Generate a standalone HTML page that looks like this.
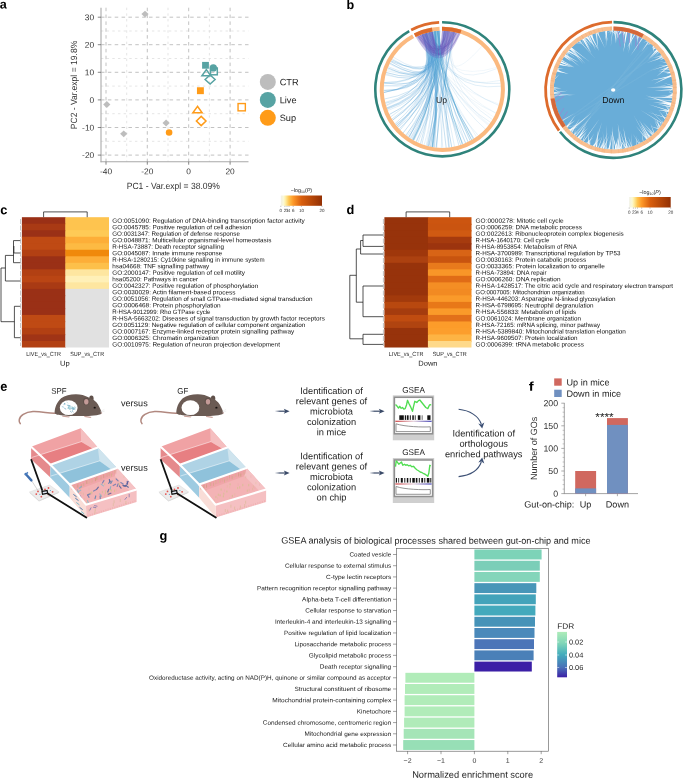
<!DOCTYPE html>
<html><head><meta charset="utf-8"><title>Figure</title>
<style>html,body{margin:0;padding:0;background:#fff;}svg{display:block;will-change:transform;}text{font-family:'Liberation Sans', sans-serif;text-rendering:geometricPrecision;}</style></head>
<body>
<svg width="685" height="779" viewBox="0 0 685 779">
<rect width="685" height="779" fill="#fff"/>
<g id="pa">
<text transform="translate(-0.30,8.50) rotate(0.03)" font-size="12.6" text-anchor="start" font-weight="bold" fill="#000" >a</text>
<line x1="126.7" y1="7.7" x2="126.7" y2="161.7" stroke="#d4d4d4" stroke-width="0.6" stroke-dasharray="2.4 3.26"/>
<line x1="168.0" y1="7.7" x2="168.0" y2="161.7" stroke="#d4d4d4" stroke-width="0.6" stroke-dasharray="2.4 3.26"/>
<line x1="209.4" y1="7.7" x2="209.4" y2="161.7" stroke="#d4d4d4" stroke-width="0.6" stroke-dasharray="2.4 3.26"/>
<line x1="101" y1="31.0" x2="248.5" y2="31.0" stroke="#d4d4d4" stroke-width="0.6" stroke-dasharray="2.4 3.26"/>
<line x1="101" y1="58.5" x2="248.5" y2="58.5" stroke="#d4d4d4" stroke-width="0.6" stroke-dasharray="2.4 3.26"/>
<line x1="101" y1="86.1" x2="248.5" y2="86.1" stroke="#d4d4d4" stroke-width="0.6" stroke-dasharray="2.4 3.26"/>
<line x1="101" y1="113.7" x2="248.5" y2="113.7" stroke="#d4d4d4" stroke-width="0.6" stroke-dasharray="2.4 3.26"/>
<line x1="101" y1="141.3" x2="248.5" y2="141.3" stroke="#d4d4d4" stroke-width="0.6" stroke-dasharray="2.4 3.26"/>
<line x1="106.0" y1="7.7" x2="106.0" y2="161.7" stroke="#b2b2b2" stroke-width="0.8" stroke-dasharray="3.5 3.36"/>
<line x1="147.3" y1="7.7" x2="147.3" y2="161.7" stroke="#b2b2b2" stroke-width="0.8" stroke-dasharray="3.5 3.36"/>
<line x1="188.7" y1="7.7" x2="188.7" y2="161.7" stroke="#b2b2b2" stroke-width="0.8" stroke-dasharray="3.5 3.36"/>
<line x1="230.1" y1="7.7" x2="230.1" y2="161.7" stroke="#b2b2b2" stroke-width="0.8" stroke-dasharray="3.5 3.36"/>
<line x1="101" y1="17.2" x2="248.5" y2="17.2" stroke="#b2b2b2" stroke-width="0.8" stroke-dasharray="3.5 3.36"/>
<line x1="101" y1="44.7" x2="248.5" y2="44.7" stroke="#b2b2b2" stroke-width="0.8" stroke-dasharray="3.5 3.36"/>
<line x1="101" y1="72.3" x2="248.5" y2="72.3" stroke="#b2b2b2" stroke-width="0.8" stroke-dasharray="3.5 3.36"/>
<line x1="101" y1="99.9" x2="248.5" y2="99.9" stroke="#b2b2b2" stroke-width="0.8" stroke-dasharray="3.5 3.36"/>
<line x1="101" y1="127.5" x2="248.5" y2="127.5" stroke="#b2b2b2" stroke-width="0.8" stroke-dasharray="3.5 3.36"/>
<line x1="101" y1="155.1" x2="248.5" y2="155.1" stroke="#b2b2b2" stroke-width="0.8" stroke-dasharray="3.5 3.36"/>
<line x1="101" y1="7.7" x2="101" y2="162.2" stroke="#a9a9a9" stroke-width="1.1"/>
<line x1="100.5" y1="161.7" x2="248.5" y2="161.7" stroke="#a9a9a9" stroke-width="1.1"/>
<line x1="97.8" y1="17.2" x2="101" y2="17.2" stroke="#555" stroke-width="0.7"/>
<text transform="translate(94.20,20.16) rotate(0.03)" font-size="8.4" text-anchor="end" font-weight="normal" fill="#333" >30</text>
<line x1="97.8" y1="44.7" x2="101" y2="44.7" stroke="#555" stroke-width="0.7"/>
<text transform="translate(94.20,47.74) rotate(0.03)" font-size="8.4" text-anchor="end" font-weight="normal" fill="#333" >20</text>
<line x1="97.8" y1="72.3" x2="101" y2="72.3" stroke="#555" stroke-width="0.7"/>
<text transform="translate(94.20,75.32) rotate(0.03)" font-size="8.4" text-anchor="end" font-weight="normal" fill="#333" >10</text>
<line x1="97.8" y1="99.9" x2="101" y2="99.9" stroke="#555" stroke-width="0.7"/>
<text transform="translate(94.20,102.90) rotate(0.03)" font-size="8.4" text-anchor="end" font-weight="normal" fill="#333" >0</text>
<line x1="97.8" y1="127.5" x2="101" y2="127.5" stroke="#555" stroke-width="0.7"/>
<text transform="translate(94.20,130.48) rotate(0.03)" font-size="8.4" text-anchor="end" font-weight="normal" fill="#333" >-10</text>
<line x1="97.8" y1="155.1" x2="101" y2="155.1" stroke="#555" stroke-width="0.7"/>
<text transform="translate(94.20,158.06) rotate(0.03)" font-size="8.4" text-anchor="end" font-weight="normal" fill="#333" >-20</text>
<line x1="106.0" y1="161.7" x2="106.0" y2="164.7" stroke="#555" stroke-width="0.7"/>
<text transform="translate(105.98,174.30) rotate(0.03)" font-size="8.4" text-anchor="middle" font-weight="normal" fill="#333" >-40</text>
<line x1="147.3" y1="161.7" x2="147.3" y2="164.7" stroke="#555" stroke-width="0.7"/>
<text transform="translate(147.34,174.30) rotate(0.03)" font-size="8.4" text-anchor="middle" font-weight="normal" fill="#333" >-20</text>
<line x1="188.7" y1="161.7" x2="188.7" y2="164.7" stroke="#555" stroke-width="0.7"/>
<text transform="translate(188.70,174.30) rotate(0.03)" font-size="8.4" text-anchor="middle" font-weight="normal" fill="#333" >0</text>
<line x1="230.1" y1="161.7" x2="230.1" y2="164.7" stroke="#555" stroke-width="0.7"/>
<text transform="translate(230.06,174.30) rotate(0.03)" font-size="8.4" text-anchor="middle" font-weight="normal" fill="#333" >20</text>
<text transform="translate(173.30,189.00) rotate(0.03) scale(0.95,1)" font-size="9" text-anchor="middle" font-weight="normal" fill="#333" >PC1 - Var.expl = 38.09%</text>
<text transform="translate(76.60,85.00) rotate(-90) scale(0.95,1)" font-size="9" text-anchor="middle" font-weight="normal" fill="#333" >PC2 - Var.expl = 19.8%</text>
<polygon points="141.4,14.1 145.0,10.7 148.6,14.1 145.0,17.5" fill="#bdbdbd" stroke="none" stroke-width="0"/>
<polygon points="103.2,104.5 106.8,101.1 110.4,104.5 106.8,107.9" fill="#bdbdbd" stroke="none" stroke-width="0"/>
<polygon points="120.1,133.8 123.7,130.4 127.3,133.8 123.7,137.2" fill="#bdbdbd" stroke="none" stroke-width="0"/>
<polygon points="162.5,123.0 166.1,119.6 169.7,123.0 166.1,126.4" fill="#bdbdbd" stroke="none" stroke-width="0"/>
<circle cx="169.1" cy="132.5" r="3.3" fill="#ff9b18"/>
<rect x="202.1" y="61.9" width="6.8" height="6.8" fill="#57a3a3"/>
<circle cx="213.3" cy="67.9" r="3.7" fill="#57a3a3"/>
<polygon points="206.3,69.6 201.9,75.7 210.7,75.7" fill="none" stroke="#57a3a3" stroke-width="1.5"/>
<rect x="210.5" y="68.0" width="6.8" height="6.8" fill="none" stroke="#57a3a3" stroke-width="1.5"/>
<polygon points="205.1,79.5 210.1,75.0 215.1,79.5 210.1,84.0" fill="none" stroke="#57a3a3" stroke-width="1.5"/>
<rect x="196.95000000000002" y="87.25" width="6.9" height="6.9" fill="#ff9b18"/>
<polygon points="197.5,106.4 192.9,112.8 202.1,112.8" fill="none" stroke="#ff9b18" stroke-width="1.5"/>
<polygon points="196.4,121.0 201.2,116.4 206.0,121.0 201.2,125.6" fill="none" stroke="#ff9b18" stroke-width="1.5"/>
<rect x="238.04999999999998" y="103.55" width="7.3" height="7.3" fill="none" stroke="#ff9b18" stroke-width="1.4"/>
<circle cx="267.8" cy="81.9" r="8" fill="#bdbdbd"/>
<text transform="translate(279.70,85.20) rotate(0.03)" font-size="9.2" text-anchor="start" font-weight="normal" fill="#222" >CTR</text>
<circle cx="267.8" cy="99.9" r="8" fill="#57a3a3"/>
<text transform="translate(279.70,103.20) rotate(0.03)" font-size="9.2" text-anchor="start" font-weight="normal" fill="#222" >Live</text>
<circle cx="267.8" cy="117.8" r="8" fill="#ff9b18"/>
<text transform="translate(279.70,121.10) rotate(0.03)" font-size="9.2" text-anchor="start" font-weight="normal" fill="#222" >Sup</text>
</g>
<g id="pb">
<text transform="translate(346.60,9.10) rotate(0.03)" font-size="12.6" text-anchor="start" font-weight="bold" fill="#000" >b</text>
<g fill="none" stroke="#4f9ed4" stroke-width="0.5">
<path d="M424.9,33.3 Q440.5,82.0 473.2,139.2" stroke-opacity="0.57"/>
<path d="M422.9,33.9 Q440.8,91.2 424.1,145.1" stroke-opacity="0.30"/>
<path d="M426.1,32.9 Q440.7,93.0 434.5,147.5" stroke-opacity="0.59"/>
<path d="M437.6,30.8 Q440.2,91.1 416.0,141.8" stroke-opacity="0.31"/>
<path d="M432.6,31.4 Q438.7,82.0 460.7,145.0" stroke-opacity="0.57"/>
<path d="M434.4,31.1 Q441.0,84.9 400.0,130.0" stroke-opacity="0.54"/>
<path d="M434.7,31.1 Q443.6,90.1 385.3,103.4" stroke-opacity="0.51"/>
<path d="M439.9,30.6 Q439.2,87.2 392.5,120.3" stroke-opacity="0.63"/>
<path d="M434.2,31.2 Q440.2,89.6 451.7,147.2" stroke-opacity="0.74"/>
<path d="M432.5,31.4 Q441.1,89.3 386.0,72.5" stroke-opacity="0.72"/>
<path d="M434.8,31.1 Q440.0,85.9 432.4,147.2" stroke-opacity="0.71"/>
<path d="M422.6,34.0 Q438.7,90.5 413.6,140.5" stroke-opacity="0.31"/>
<path d="M426.6,32.7 Q441.0,87.9 387.2,69.0" stroke-opacity="0.29"/>
<path d="M454.0,31.8 Q440.5,91.9 497.2,68.5" stroke-opacity="0.22"/>
<path d="M444.5,30.6 Q441.2,88.4 407.2,136.4" stroke-opacity="0.37"/>
<path d="M422.3,34.1 Q444.0,89.6 395.8,125.1" stroke-opacity="0.53"/>
<path d="M433.2,31.3 Q443.0,91.8 473.9,138.8" stroke-opacity="0.75"/>
<path d="M429.2,32.1 Q438.7,82.1 420.4,143.8" stroke-opacity="0.57"/>
<path d="M425.1,33.2 Q439.2,82.5 426.1,145.7" stroke-opacity="0.25"/>
<path d="M422.7,34.0 Q439.8,85.5 499.1,104.0" stroke-opacity="0.15"/>
<path d="M424.4,33.4 Q441.2,82.3 476.6,137.0" stroke-opacity="0.23"/>
<path d="M428.3,32.3 Q438.4,92.7 385.7,73.8" stroke-opacity="0.33"/>
<path d="M424.8,33.3 Q444.2,91.7 429.0,146.5" stroke-opacity="0.51"/>
<path d="M426.8,32.7 Q441.5,90.6 413.7,140.5" stroke-opacity="0.64"/>
<path d="M426.1,32.9 Q443.1,91.1 432.8,147.2" stroke-opacity="0.73"/>
<path d="M426.2,32.9 Q438.5,84.7 396.8,126.3" stroke-opacity="0.26"/>
<path d="M434.6,31.1 Q444.2,92.8 500.9,86.2" stroke-opacity="0.34"/>
<path d="M426.1,32.9 Q442.0,92.1 410.7,138.7" stroke-opacity="0.35"/>
<path d="M449.2,31.0 Q442.3,92.2 441.3,148.0" stroke-opacity="0.34"/>
<path d="M435.7,31.0 Q440.3,90.9 412.5,139.9" stroke-opacity="0.64"/>
<path d="M448.0,30.9 Q439.3,82.8 390.9,60.9" stroke-opacity="0.61"/>
<path d="M438.5,30.7 Q444.2,89.2 470.2,140.9" stroke-opacity="0.71"/>
<path d="M432.0,31.5 Q442.2,87.6 430.5,146.8" stroke-opacity="0.74"/>
<path d="M448.5,30.9 Q439.8,84.8 489.3,124.4" stroke-opacity="0.17"/>
<path d="M432.7,31.4 Q443.8,85.5 392.4,120.2" stroke-opacity="0.32"/>
<path d="M432.6,31.4 Q441.3,87.7 500.7,83.3" stroke-opacity="0.33"/>
<path d="M422.5,34.0 Q443.1,83.4 412.0,139.6" stroke-opacity="0.25"/>
<path d="M435.2,31.0 Q441.6,90.7 399.0,129.0" stroke-opacity="0.51"/>
<path d="M432.2,31.5 Q441.3,88.0 403.1,133.0" stroke-opacity="0.64"/>
<path d="M438.6,30.7 Q441.4,89.6 384.4,99.0" stroke-opacity="0.50"/>
<path d="M431.7,31.6 Q443.6,92.6 390.6,61.5" stroke-opacity="0.60"/>
<path d="M432.2,31.5 Q439.0,86.6 488.4,125.6" stroke-opacity="0.15"/>
<path d="M426.4,32.8 Q443.7,83.2 383.7,92.4" stroke-opacity="0.64"/>
<path d="M434.0,31.2 Q439.6,92.7 387.7,67.8" stroke-opacity="0.73"/>
<path d="M430.9,31.7 Q440.9,87.5 488.9,125.0" stroke-opacity="0.16"/>
<path d="M425.7,33.0 Q441.6,86.6 383.7,86.2" stroke-opacity="0.26"/>
<path d="M428.1,32.4 Q444.2,90.8 454.5,146.7" stroke-opacity="0.33"/>
<path d="M443.8,30.6 Q439.9,82.9 427.6,146.1" stroke-opacity="0.64"/>
<path d="M438.6,30.7 Q443.8,88.1 465.6,143.2" stroke-opacity="0.37"/>
<path d="M423.8,33.6 Q438.7,92.6 383.6,90.2" stroke-opacity="0.46"/>
<path d="M436.6,30.9 Q443.5,86.7 386.6,70.7" stroke-opacity="0.28"/>
<path d="M432.1,31.5 Q441.5,84.2 496.8,67.4" stroke-opacity="0.15"/>
<path d="M425.0,33.2 Q440.1,90.4 410.2,138.4" stroke-opacity="0.41"/>
<path d="M431.1,31.7 Q439.8,81.5 397.4,127.1" stroke-opacity="0.26"/>
<path d="M432.0,31.5 Q438.9,91.1 389.3,114.5" stroke-opacity="0.72"/>
<path d="M431.0,31.7 Q442.4,93.1 500.3,80.4" stroke-opacity="0.24"/>
<path d="M437.2,30.8 Q440.4,82.0 448.8,147.6" stroke-opacity="0.50"/>
<path d="M423.5,33.7 Q438.8,91.4 465.7,143.1" stroke-opacity="0.38"/>
<path d="M451.9,31.4 Q441.1,83.2 406.3,135.6" stroke-opacity="0.40"/>
<path d="M426.8,32.7 Q439.8,92.9 478.3,135.6" stroke-opacity="0.25"/>
<path d="M428.5,32.2 Q441.3,83.7 394.9,123.9" stroke-opacity="0.49"/>
<path d="M422.3,34.1 Q438.6,81.6 421.9,144.3" stroke-opacity="0.45"/>
<path d="M426.3,32.8 Q442.2,89.9 386.8,108.5" stroke-opacity="0.63"/>
<path d="M447.9,30.9 Q442.6,89.0 393.2,57.1" stroke-opacity="0.32"/>
<path d="M437.2,30.8 Q443.2,83.0 498.8,105.4" stroke-opacity="0.29"/>
<path d="M431.2,31.7 Q441.8,92.0 490.7,122.5" stroke-opacity="0.31"/>
<path d="M434.6,31.1 Q440.5,82.6 428.5,146.4" stroke-opacity="0.32"/>
<path d="M450.3,31.1 Q441.2,81.3 449.3,147.6" stroke-opacity="0.64"/>
<path d="M435.6,31.0 Q438.7,90.1 386.6,107.9" stroke-opacity="0.58"/>
<path d="M423.5,33.7 Q442.7,93.0 383.7,85.3" stroke-opacity="0.35"/>
<path d="M429.0,32.1 Q442.0,89.0 383.6,90.7" stroke-opacity="0.63"/>
<path d="M424.8,33.3 Q441.7,81.4 383.9,83.7" stroke-opacity="0.40"/>
<path d="M426.9,32.6 Q440.0,87.5 446.2,147.9" stroke-opacity="0.64"/>
<path d="M430.5,31.8 Q444.2,92.5 388.2,66.6" stroke-opacity="0.35"/>
<path d="M430.4,31.8 Q439.9,83.8 433.6,147.3" stroke-opacity="0.52"/>
<path d="M445.3,30.7 Q444.0,82.9 416.3,141.9" stroke-opacity="0.51"/>
<path d="M449.6,31.1 Q443.7,87.1 496.0,113.0" stroke-opacity="0.17"/>
<path d="M422.3,34.1 Q439.1,85.4 390.5,117.0" stroke-opacity="0.40"/>
<path d="M437.3,30.8 Q439.0,92.4 384.0,82.8" stroke-opacity="0.67"/>
<path d="M438.4,30.7 Q444.3,88.4 395.5,124.8" stroke-opacity="0.45"/>
<path d="M429.8,31.9 Q443.3,84.7 426.6,145.9" stroke-opacity="0.30"/>
<path d="M445.9,30.7 Q440.5,92.8 387.6,110.6" stroke-opacity="0.34"/>
<path d="M453.9,31.8 Q441.6,89.9 436.1,147.7" stroke-opacity="0.77"/>
<path d="M435.3,31.0 Q440.0,81.9 384.0,82.6" stroke-opacity="0.57"/>
<path d="M444.1,30.6 Q442.7,93.0 397.7,127.4" stroke-opacity="0.40"/>
<path d="M433.9,31.2 Q439.3,83.2 385.8,105.4" stroke-opacity="0.45"/>
<path d="M438.5,30.7 Q444.3,86.7 408.4,137.2" stroke-opacity="0.70"/>
<path d="M425.6,33.0 Q439.7,84.4 397.8,127.6" stroke-opacity="0.30"/>
<path d="M438.2,30.7 Q441.4,85.8 458.9,145.6" stroke-opacity="0.51"/>
<path d="M423.3,33.8 Q441.3,88.9 392.1,58.8" stroke-opacity="0.31"/>
<path d="M445.4,30.7 Q441.0,92.7 405.7,135.2" stroke-opacity="0.45"/>
<path d="M454.7,31.9 Q443.7,87.0 428.4,146.3" stroke-opacity="0.60"/>
<path d="M422.2,34.1 Q443.4,93.0 389.8,63.0" stroke-opacity="0.66"/>
<path d="M424.1,33.5 Q443.9,90.0 387.1,109.3" stroke-opacity="0.59"/>
<path d="M435.9,30.9 Q443.0,84.1 386.0,106.0" stroke-opacity="0.27"/>
<path d="M451.5,31.3 Q442.1,89.7 417.8,142.6" stroke-opacity="0.38"/>
<path d="M423.4,33.7 Q439.6,88.5 385.1,102.5" stroke-opacity="0.44"/>
<path d="M427.5,32.5 Q443.6,87.0 391.6,59.7" stroke-opacity="0.57"/>
<path d="M426.6,32.7 Q438.4,87.3 495.9,113.2" stroke-opacity="0.19"/>
<path d="M429.7,32.0 Q439.7,81.7 383.7,92.6" stroke-opacity="0.71"/>
<path d="M429.7,32.0 Q442.7,87.4 468.1,142.0" stroke-opacity="0.70"/>
<path d="M439.7,30.7 Q439.6,90.4 385.4,74.8" stroke-opacity="0.37"/>
<path d="M439.4,30.7 Q440.8,89.3 411.6,139.3" stroke-opacity="0.36"/>
<path d="M444.4,30.6 Q439.2,81.9 409.1,137.7" stroke-opacity="0.74"/>
<path d="M429.2,32.1 Q444.3,92.5 485.4,129.2" stroke-opacity="0.29"/>
<path d="M425.5,33.1 Q442.3,85.8 494.0,117.2" stroke-opacity="0.13"/>
<path d="M428.1,32.4 Q440.4,92.8 431.8,147.0" stroke-opacity="0.39"/>
<path d="M439.6,30.7 Q443.2,86.5 396.7,126.2" stroke-opacity="0.66"/>
<path d="M430.6,31.8 Q440.5,92.1 389.4,63.8" stroke-opacity="0.35"/>
<path d="M429.5,32.0 Q438.5,82.1 442.8,148.0" stroke-opacity="0.32"/>
<path d="M446.0,30.7 Q439.9,92.8 436.7,147.7" stroke-opacity="0.47"/>
<path d="M426.8,32.7 Q438.3,90.4 463.1,144.2" stroke-opacity="0.44"/>
<path d="M451.4,31.3 Q441.2,92.8 482.0,46.1" stroke-opacity="0.17"/>
<path d="M447.8,30.9 Q443.9,83.5 391.8,119.1" stroke-opacity="0.50"/>
<path d="M452.8,31.6 Q440.3,85.1 492.5,119.7" stroke-opacity="0.26"/>
</g>
<path d="M415.7,37.0 A58.7,58.7 0 0 1 432.5,31.4 Q440.8,61.3 442.0,30.6 A58.7,58.7 0 0 1 460.3,33.4 Q440.8,81.3 415.7,37.0Z" fill="#6f5bbd" fill-opacity="0.36"/>
<path d="M417.5,36.1 A58.7,58.7 0 0 1 428.1,32.3 Q440.8,64.3 445.4,30.7 A58.7,58.7 0 0 1 456.5,32.3 Q440.8,78.3 417.5,36.1Z" fill="#6f5bbd" fill-opacity="0.26"/>
<g fill="none" stroke="#6a55b8" stroke-width="0.5" stroke-opacity="0.4">
<path d="M421.4,34.4 Q439.1,64.9 456.6,32.4"/>
<path d="M427.9,32.4 Q439.1,61.9 446.9,30.8"/>
<path d="M424.5,33.3 Q442.7,77.2 448.3,30.9"/>
<path d="M431.9,31.5 Q439.1,63.0 447.2,30.8"/>
<path d="M423.6,33.6 Q440.6,65.5 455.3,32.1"/>
<path d="M422.3,34.1 Q441.5,74.8 453.7,31.7"/>
<path d="M429.5,32.0 Q439.3,76.4 454.5,31.9"/>
<path d="M420.3,34.9 Q440.3,74.6 452.7,31.5"/>
<path d="M418.8,35.5 Q439.8,64.1 446.9,30.8"/>
<path d="M430.1,31.9 Q440.1,68.4 452.9,31.6"/>
<path d="M432.0,31.5 Q439.7,75.9 451.6,31.3"/>
<path d="M426.2,32.8 Q439.2,69.8 460.3,33.4"/>
<path d="M429.0,32.1 Q442.5,62.0 457.6,32.6"/>
<path d="M420.3,34.9 Q439.6,78.8 444.5,30.6"/>
<path d="M425.1,33.2 Q440.3,76.9 459.2,33.1"/>
<path d="M422.8,33.9 Q441.9,78.3 447.1,30.8"/>
<path d="M417.3,36.2 Q441.3,65.2 453.2,31.6"/>
<path d="M421.5,34.4 Q439.6,65.9 444.9,30.7"/>
<path d="M425.3,33.1 Q439.6,61.5 454.2,31.8"/>
<path d="M420.8,34.7 Q439.5,66.9 454.7,31.9"/>
<path d="M418.9,35.5 Q441.0,62.4 456.8,32.4"/>
<path d="M417.2,36.2 Q441.0,72.8 449.6,31.1"/>
<path d="M417.1,36.3 Q441.6,68.7 445.3,30.7"/>
<path d="M420.1,34.9 Q442.6,66.9 448.0,30.9"/>
<path d="M424.8,33.3 Q440.5,76.9 448.9,31.0"/>
<path d="M432.0,31.5 Q439.6,74.4 449.0,31.0"/>
<path d="M418.9,35.5 Q442.4,68.9 442.4,30.6"/>
<path d="M429.0,32.1 Q442.3,69.6 449.8,31.1"/>
<path d="M418.2,35.8 Q441.0,72.8 442.6,30.6"/>
<path d="M430.6,31.8 Q441.3,68.0 443.9,30.6"/>
<path d="M423.7,33.6 Q439.9,70.7 445.0,30.7"/>
<path d="M430.8,31.7 Q440.8,75.8 444.3,30.6"/>
<path d="M431.5,31.6 Q439.3,78.3 445.9,30.7"/>
<path d="M431.7,31.6 Q439.0,78.0 451.2,31.3"/>
<path d="M421.8,34.3 Q441.3,76.1 458.8,33.0"/>
<path d="M418.2,35.8 Q439.7,68.6 456.6,32.4"/>
</g>
<g fill="none" stroke="#3d9bc9" stroke-width="0.6" stroke-opacity="0.8">
<path d="M435.1,31.0 Q441.3,87.3 413.0,140.1"/>
<path d="M436.2,30.9 Q441.3,87.3 432.1,147.1"/>
<path d="M437.2,30.8 Q441.3,87.3 462.4,144.5"/>
<path d="M437.7,30.8 Q441.3,87.3 471.7,140.1"/>
</g>
<path d="M441.98,28.70 A60.6,60.6 0 1 1 413.11,36.20" fill="none" stroke="#fbb97f" stroke-width="4.0"/>
<path d="M414.79,35.31 A60.6,60.6 0 0 1 439.55,28.76" fill="none" stroke="#fbb97f" stroke-width="4.0"/>
<path d="M414.79,35.31 A60.6,60.6 0 0 1 432.19,29.55" fill="none" stroke="#dd6b2c" stroke-width="4.0"/>
<path d="M441.98,28.70 A60.6,60.6 0 0 1 460.93,31.63" fill="none" stroke="#dd6b2c" stroke-width="4.0"/>
<path d="M442.07,22.30 A67.0,67.0 0 1 1 409.21,31.04" fill="none" stroke="#2f837b" stroke-width="2.6"/>
<path d="M411.16,29.98 A67.0,67.0 0 0 1 439.14,22.37" fill="none" stroke="#dd6b2c" stroke-width="2.6"/>
<text transform="translate(441.50,103.00) rotate(0.03)" font-size="8.7" text-anchor="middle" font-weight="normal" fill="#222" >Up</text>
<circle cx="613.5" cy="90" r="59.8" fill="#69add8"/>
<g stroke="#78b6dc" stroke-width="1.2" stroke-opacity="0.5">
<line x1="567.8" y1="120.6" x2="661.8" y2="63.7"/>
<line x1="578.5" y1="132.4" x2="645.1" y2="45.0"/>
<line x1="574.6" y1="128.9" x2="652.6" y2="51.3"/>
<line x1="574.9" y1="129.2" x2="647.8" y2="47.0"/>
<line x1="577.3" y1="131.4" x2="652.2" y2="51.0"/>
<line x1="567.1" y1="119.6" x2="655.7" y2="54.7"/>
</g>
<g fill="#ffffff">
<path d="M657.9,49.9 L650.1,58.3 L658.7,50.9Z" fill-opacity="0.83"/>
<path d="M649.2,138.0 L640.6,125.2 L648.6,138.4Z" fill-opacity="0.72"/>
<path d="M580.8,140.1 L583.5,135.0 L579.7,139.3Z" fill-opacity="0.66"/>
<path d="M564.7,55.4 L579.6,66.4 L565.6,54.2Z" fill-opacity="0.58"/>
<path d="M632.2,146.8 L628.2,136.3 L631.2,147.1Z" fill-opacity="0.57"/>
<path d="M559.2,65.0 L574.3,67.2 L559.8,63.7Z" fill-opacity="0.84"/>
<path d="M569.5,49.6 L574.4,49.3 L570.7,48.3Z" fill-opacity="0.92"/>
<path d="M671.8,103.5 L652.9,102.3 L671.4,105.0Z" fill-opacity="0.86"/>
<path d="M557.5,69.0 L563.9,67.9 L557.8,68.1Z" fill-opacity="0.62"/>
<path d="M606.0,30.7 L605.2,41.3 L607.0,30.6Z" fill-opacity="0.98"/>
<path d="M588.2,144.2 L594.2,133.6 L587.4,143.8Z" fill-opacity="0.64"/>
<path d="M616.2,149.7 L618.2,137.1 L614.5,149.8Z" fill-opacity="0.90"/>
<path d="M671.3,74.6 L654.0,83.9 L671.7,76.2Z" fill-opacity="0.75"/>
<path d="M575.4,136.1 L575.1,129.2 L574.5,135.3Z" fill-opacity="0.88"/>
<path d="M627.7,148.1 L623.3,127.0 L626.5,148.4Z" fill-opacity="0.89"/>
<path d="M601.9,148.7 L604.9,141.0 L600.2,148.3Z" fill-opacity="0.78"/>
<path d="M648.3,138.6 L640.6,124.4 L647.1,139.4Z" fill-opacity="0.68"/>
<path d="M630.1,147.4 L627.1,145.1 L629.3,147.7Z" fill-opacity="0.56"/>
<path d="M648.1,41.2 L641.4,52.1 L649.1,41.9Z" fill-opacity="0.74"/>
<path d="M650.9,136.7 L646.7,131.8 L649.9,137.5Z" fill-opacity="0.61"/>
<path d="M620.8,30.6 L615.4,40.8 L621.8,30.8Z" fill-opacity="0.62"/>
<path d="M553.7,89.1 L562.0,94.2 L553.7,88.3Z" fill-opacity="0.84"/>
<path d="M554.1,96.6 L575.9,93.9 L554.0,95.5Z" fill-opacity="0.62"/>
<path d="M647.5,40.8 L643.1,42.6 L648.3,41.4Z" fill-opacity="0.58"/>
<path d="M568.3,50.9 L568.7,55.1 L569.2,49.9Z" fill-opacity="0.74"/>
<path d="M576.3,136.8 L592.0,115.3 L575.5,136.2Z" fill-opacity="0.78"/>
<path d="M663.6,57.4 L659.8,60.3 L664.4,58.6Z" fill-opacity="0.79"/>
<path d="M626.3,148.4 L619.8,130.0 L625.2,148.6Z" fill-opacity="0.75"/>
<path d="M667.9,114.9 L664.8,109.4 L667.3,116.1Z" fill-opacity="0.95"/>
<path d="M616.7,30.3 L616.9,43.0 L617.5,30.3Z" fill-opacity="0.75"/>
<path d="M570.8,48.1 L589.9,61.9 L571.5,47.5Z" fill-opacity="0.95"/>
<path d="M667.7,64.7 L650.1,70.7 L668.0,65.4Z" fill-opacity="0.88"/>
<path d="M623.8,31.1 L623.1,43.1 L624.8,31.3Z" fill-opacity="0.72"/>
<path d="M589.8,35.1 L599.1,51.0 L591.3,34.5Z" fill-opacity="0.94"/>
<path d="M603.3,148.9 L607.6,139.6 L602.5,148.8Z" fill-opacity="0.83"/>
<path d="M666.5,62.3 L658.9,61.5 L666.7,62.7Z" fill-opacity="0.97"/>
<path d="M636.7,145.1 L636.8,135.8 L636.2,145.3Z" fill-opacity="0.84"/>
<path d="M659.2,51.4 L655.1,56.6 L659.6,51.9Z" fill-opacity="0.71"/>
<path d="M579.2,41.0 L594.6,57.7 L579.6,40.7Z" fill-opacity="0.96"/>
<path d="M623.7,31.1 L617.9,35.3 L624.5,31.2Z" fill-opacity="0.98"/>
<path d="M611.2,30.2 L609.6,35.3 L612.5,30.2Z" fill-opacity="0.59"/>
<path d="M669.4,68.9 L660.7,69.8 L669.8,69.7Z" fill-opacity="0.71"/>
<path d="M618.4,30.4 L616.4,34.5 L619.4,30.5Z" fill-opacity="0.98"/>
<path d="M580.4,139.8 L587.7,130.1 L580.0,139.5Z" fill-opacity="0.75"/>
<path d="M567.1,52.2 L575.9,58.2 L567.5,51.8Z" fill-opacity="0.87"/>
<path d="M582.4,38.9 L583.5,46.6 L582.8,38.7Z" fill-opacity="0.89"/>
<path d="M635.7,34.5 L636.8,38.8 L636.3,34.7Z" fill-opacity="0.92"/>
<path d="M631.8,33.1 L627.4,50.2 L632.9,33.4Z" fill-opacity="0.62"/>
<path d="M578.4,41.6 L584.1,46.3 L579.0,41.2Z" fill-opacity="0.59"/>
<path d="M570.5,48.4 L585.3,63.8 L571.5,47.5Z" fill-opacity="0.73"/>
<path d="M619.3,149.5 L619.6,144.0 L618.0,149.6Z" fill-opacity="0.69"/>
<path d="M606.7,149.4 L606.5,124.4 L605.8,149.3Z" fill-opacity="0.66"/>
<path d="M595.1,146.9 L602.0,121.9 L593.7,146.4Z" fill-opacity="0.57"/>
<path d="M595.5,33.0 L598.3,50.0 L596.9,32.6Z" fill-opacity="0.75"/>
<path d="M567.1,52.3 L574.7,52.3 L567.8,51.5Z" fill-opacity="0.66"/>
<path d="M671.9,102.7 L658.9,101.7 L671.6,104.2Z" fill-opacity="0.88"/>
<path d="M634.5,34.0 L627.2,47.4 L635.4,34.4Z" fill-opacity="0.98"/>
<path d="M661.8,125.3 L659.6,120.2 L661.0,126.4Z" fill-opacity="0.62"/>
<path d="M673.2,87.0 L660.2,85.1 L673.3,88.1Z" fill-opacity="0.84"/>
<path d="M670.5,71.9 L658.1,71.2 L670.8,73.0Z" fill-opacity="0.93"/>
<path d="M603.8,149.0 L605.2,139.6 L602.5,148.8Z" fill-opacity="0.61"/>
<path d="M560.4,62.4 L573.9,67.3 L561.0,61.3Z" fill-opacity="0.93"/>
<path d="M553.7,88.5 L561.5,88.6 L553.8,87.1Z" fill-opacity="0.69"/>
<path d="M610.0,149.7 L612.8,130.8 L608.7,149.6Z" fill-opacity="0.74"/>
<path d="M597.1,147.5 L598.2,129.7 L595.8,147.1Z" fill-opacity="0.95"/>
<path d="M642.6,142.3 L635.3,141.8 L641.6,142.8Z" fill-opacity="0.57"/>
<path d="M569.7,130.7 L577.7,126.7 L568.6,129.5Z" fill-opacity="0.71"/>
<path d="M588.3,35.8 L595.6,50.0 L589.6,35.2Z" fill-opacity="0.84"/>
<path d="M582.3,39.0 L591.3,53.4 L583.6,38.2Z" fill-opacity="1.00"/>
<path d="M672.4,100.3 L643.9,98.8 L672.3,101.0Z" fill-opacity="0.71"/>
<path d="M662.4,55.5 L651.1,58.4 L662.7,56.0Z" fill-opacity="0.96"/>
<path d="M650.2,137.2 L638.7,119.4 L649.2,138.0Z" fill-opacity="0.91"/>
<path d="M620.4,149.4 L623.4,141.0 L618.8,149.6Z" fill-opacity="0.91"/>
<path d="M671.8,103.3 L645.3,95.2 L671.4,104.8Z" fill-opacity="0.85"/>
<path d="M583.1,38.5 L590.2,48.9 L583.9,38.0Z" fill-opacity="0.61"/>
<path d="M584.1,37.9 L592.2,47.5 L584.8,37.5Z" fill-opacity="0.86"/>
<path d="M637.1,35.0 L637.6,43.6 L638.5,35.7Z" fill-opacity="0.71"/>
<path d="M553.8,93.3 L567.8,90.8 L553.7,92.3Z" fill-opacity="0.85"/>
<path d="M630.6,147.3 L623.4,135.2 L630.0,147.5Z" fill-opacity="0.96"/>
<path d="M569.7,49.3 L574.9,52.3 L570.3,48.6Z" fill-opacity="0.85"/>
<path d="M670.0,109.5 L665.4,103.6 L669.7,110.3Z" fill-opacity="0.61"/>
<path d="M666.5,117.7 L647.6,112.0 L666.2,118.3Z" fill-opacity="0.91"/>
<path d="M673.2,94.0 L666.6,97.5 L673.0,95.6Z" fill-opacity="0.93"/>
<path d="M671.4,104.8 L662.1,102.4 L671.1,106.2Z" fill-opacity="0.95"/>
<path d="M566.8,127.4 L575.1,120.3 L565.9,126.2Z" fill-opacity="0.80"/>
<path d="M586.8,143.5 L593.5,137.3 L586.0,143.1Z" fill-opacity="0.82"/>
<path d="M559.4,64.5 L566.0,66.3 L559.9,63.5Z" fill-opacity="0.85"/>
<path d="M585.9,36.9 L593.0,44.9 L587.5,36.1Z" fill-opacity="0.63"/>
<path d="M631.3,147.1 L627.5,145.2 L630.8,147.3Z" fill-opacity="1.00"/>
<path d="M576.3,43.2 L583.1,43.5 L577.2,42.5Z" fill-opacity="0.57"/>
<path d="M557.0,70.3 L561.7,72.8 L557.6,68.8Z" fill-opacity="0.76"/>
<path d="M574.2,135.1 L581.5,130.2 L573.5,134.4Z" fill-opacity="0.57"/>
<path d="M654.2,133.8 L642.5,121.9 L653.4,134.5Z" fill-opacity="0.67"/>
<path d="M580.0,139.5 L586.7,131.7 L578.8,138.7Z" fill-opacity="0.69"/>
<path d="M651.2,136.4 L644.9,133.0 L650.7,136.8Z" fill-opacity="0.95"/>
<path d="M568.8,129.8 L575.0,131.0 L568.4,129.3Z" fill-opacity="0.92"/>
<path d="M590.3,145.1 L590.1,140.2 L588.8,144.4Z" fill-opacity="0.83"/>
<path d="M669.7,110.5 L648.2,104.3 L669.4,111.2Z" fill-opacity="0.94"/>
<path d="M609.3,149.7 L610.7,142.8 L608.0,149.5Z" fill-opacity="0.92"/>
<path d="M570.1,48.9 L583.6,64.6 L571.2,47.7Z" fill-opacity="0.57"/>
<path d="M653.3,45.3 L653.9,51.2 L654.1,46.1Z" fill-opacity="0.90"/>
<path d="M609.1,149.6 L611.1,133.1 L608.6,149.6Z" fill-opacity="0.82"/>
<path d="M621.2,30.7 L616.3,37.8 L622.2,30.8Z" fill-opacity="0.84"/>
<path d="M669.7,110.3 L663.6,102.9 L669.4,111.3Z" fill-opacity="0.85"/>
<path d="M638.7,35.8 L636.7,40.2 L639.3,36.1Z" fill-opacity="0.67"/>
<path d="M560.9,61.5 L564.8,60.1 L561.7,60.2Z" fill-opacity="0.62"/>
<path d="M563.9,56.7 L571.5,61.6 L564.7,55.5Z" fill-opacity="0.97"/>
<path d="M662.5,124.2 L661.9,117.2 L662.2,124.7Z" fill-opacity="0.84"/>
<path d="M579.0,41.2 L582.6,43.6 L579.7,40.7Z" fill-opacity="0.98"/>
<path d="M584.1,37.9 L588.5,38.5 L585.6,37.1Z" fill-opacity="0.76"/>
<path d="M673.2,93.6 L667.7,95.4 L673.1,94.9Z" fill-opacity="0.74"/>
<path d="M622.6,149.1 L617.8,123.7 L621.1,149.3Z" fill-opacity="0.68"/>
<path d="M663.0,56.4 L646.6,62.9 L663.8,57.6Z" fill-opacity="0.62"/>
<path d="M583.8,38.1 L591.1,52.4 L584.5,37.7Z" fill-opacity="0.72"/>
<path d="M566.7,52.8 L570.2,62.0 L567.2,52.1Z" fill-opacity="0.67"/>
<path d="M608.6,149.6 L604.0,145.6 L608.0,149.5Z" fill-opacity="1.00"/>
<path d="M673.2,86.2 L646.1,87.3 L673.3,87.9Z" fill-opacity="0.59"/>
<path d="M567.1,127.8 L575.5,114.9 L566.2,126.6Z" fill-opacity="0.66"/>
<path d="M593.5,146.3 L601.6,136.7 L592.3,145.9Z" fill-opacity="0.72"/>
<path d="M570.3,131.4 L592.0,112.5 L569.3,130.3Z" fill-opacity="0.81"/>
<path d="M606.1,30.7 L605.9,47.7 L607.2,30.5Z" fill-opacity="0.65"/>
<path d="M668.6,66.8 L658.7,70.4 L669.1,67.9Z" fill-opacity="0.78"/>
<path d="M673.2,87.2 L668.6,92.2 L673.3,88.4Z" fill-opacity="0.72"/>
<path d="M594.1,146.6 L596.8,142.5 L592.9,146.1Z" fill-opacity="0.78"/>
<path d="M653.1,45.2 L652.2,48.7 L654.3,46.3Z" fill-opacity="0.81"/>
<path d="M669.7,110.5 L658.1,109.9 L669.1,112.1Z" fill-opacity="0.92"/>
<path d="M630.6,32.7 L631.6,47.3 L631.5,33.0Z" fill-opacity="0.72"/>
<path d="M655.0,47.0 L652.5,50.0 L656.2,48.1Z" fill-opacity="0.98"/>
<path d="M610.8,30.3 L616.4,35.4 L612.1,30.2Z" fill-opacity="0.87"/>
<path d="M668.3,66.0 L656.5,76.4 L668.8,67.2Z" fill-opacity="0.85"/>
<path d="M619.7,149.5 L618.8,124.7 L618.7,149.6Z" fill-opacity="0.87"/>
<path d="M673.0,96.1 L658.9,95.4 L672.9,96.7Z" fill-opacity="0.56"/>
<path d="M614.1,30.2 L616.0,43.4 L615.5,30.2Z" fill-opacity="0.99"/>
<path d="M662.2,55.3 L654.7,56.8 L662.5,55.7Z" fill-opacity="0.89"/>
<path d="M553.8,93.9 L573.0,95.6 L553.8,93.1Z" fill-opacity="0.77"/>
<path d="M673.2,94.2 L661.6,98.1 L673.0,95.9Z" fill-opacity="0.76"/>
<path d="M611.6,30.2 L607.4,32.9 L613.2,30.2Z" fill-opacity="0.83"/>
<path d="M627.3,148.2 L620.1,140.7 L625.7,148.6Z" fill-opacity="0.72"/>
<path d="M653.7,45.7 L652.9,52.7 L654.4,46.4Z" fill-opacity="0.76"/>
<path d="M668.5,113.5 L663.3,116.9 L668.0,114.5Z" fill-opacity="0.75"/>
<path d="M673.3,87.6 L656.8,86.4 L673.3,88.3Z" fill-opacity="0.93"/>
<path d="M640.2,143.5 L637.4,137.5 L639.7,143.8Z" fill-opacity="0.77"/>
<path d="M673.3,88.6 L654.3,91.0 L673.3,90.2Z" fill-opacity="0.65"/>
<path d="M589.4,144.7 L588.0,133.8 L588.0,144.1Z" fill-opacity="0.74"/>
<path d="M660.9,126.4 L652.8,117.8 L660.5,126.9Z" fill-opacity="0.95"/>
<path d="M662.3,55.5 L654.7,60.8 L663.1,56.6Z" fill-opacity="0.78"/>
<path d="M578.7,138.6 L587.0,125.6 L577.4,137.7Z" fill-opacity="0.63"/>
<path d="M604.2,149.1 L609.4,135.1 L603.0,148.9Z" fill-opacity="0.63"/>
<path d="M566.5,53.0 L567.7,59.6 L566.9,52.5Z" fill-opacity="0.82"/>
<path d="M583.1,141.5 L586.1,132.3 L582.5,141.1Z" fill-opacity="0.83"/>
<path d="M671.8,103.4 L661.7,103.8 L671.6,104.0Z" fill-opacity="0.73"/>
<path d="M557.6,68.8 L559.5,71.9 L557.9,67.9Z" fill-opacity="0.84"/>
<path d="M623.8,31.1 L623.5,35.4 L625.4,31.4Z" fill-opacity="0.94"/>
<path d="M660.2,127.4 L656.6,119.0 L659.1,128.7Z" fill-opacity="0.87"/>
<path d="M562.5,121.2 L574.5,113.2 L561.9,120.2Z" fill-opacity="0.60"/>
<path d="M556.6,71.6 L568.7,74.1 L557.1,70.1Z" fill-opacity="0.95"/>
<path d="M653.6,134.4 L648.3,129.6 L652.7,135.2Z" fill-opacity="0.79"/>
<path d="M570.9,132.0 L572.0,128.4 L570.4,131.5Z" fill-opacity="0.63"/>
<path d="M647.4,139.3 L633.0,114.0 L646.9,139.6Z" fill-opacity="0.86"/>
<path d="M671.6,104.1 L667.2,103.2 L671.3,105.4Z" fill-opacity="0.66"/>
<path d="M601.1,148.5 L608.1,132.4 L599.7,148.2Z" fill-opacity="0.61"/>
<path d="M583.7,141.8 L599.8,118.6 L583.1,141.5Z" fill-opacity="0.95"/>
<path d="M569.8,130.8 L577.4,122.4 L569.3,130.3Z" fill-opacity="0.89"/>
<path d="M673.2,93.0 L668.6,92.3 L673.2,94.0Z" fill-opacity="0.93"/>
<path d="M574.0,134.9 L588.8,119.5 L573.6,134.5Z" fill-opacity="0.73"/>
<path d="M585.5,37.1 L597.1,48.4 L586.6,36.6Z" fill-opacity="0.69"/>
<path d="M617.0,149.7 L611.6,130.9 L615.8,149.8Z" fill-opacity="0.97"/>
<path d="M663.5,122.8 L649.6,109.9 L663.2,123.2Z" fill-opacity="0.63"/>
<path d="M643.5,141.7 L641.7,131.6 L643.0,142.0Z" fill-opacity="0.99"/>
<path d="M567.7,51.6 L583.2,59.4 L568.7,50.4Z" fill-opacity="0.95"/>
<path d="M656.9,48.9 L648.0,59.7 L657.8,49.9Z" fill-opacity="0.91"/>
<path d="M657.3,49.3 L653.6,52.5 L658.1,50.2Z" fill-opacity="0.98"/>
<path d="M654.5,133.5 L650.3,122.9 L654.0,134.0Z" fill-opacity="0.98"/>
<path d="M614.9,30.2 L619.8,39.5 L616.2,30.3Z" fill-opacity="0.75"/>
<path d="M578.3,138.4 L587.9,128.1 L577.3,137.6Z" fill-opacity="0.88"/>
<path d="M560.3,62.6 L569.9,66.1 L560.9,61.5Z" fill-opacity="0.84"/>
<path d="M671.0,106.3 L657.2,104.0 L670.7,107.5Z" fill-opacity="0.76"/>
<path d="M647.9,138.9 L642.3,132.3 L647.3,139.3Z" fill-opacity="0.99"/>
<path d="M618.8,149.6 L618.8,137.8 L617.1,149.7Z" fill-opacity="0.70"/>
<path d="M659.2,128.5 L654.6,120.7 L658.3,129.7Z" fill-opacity="0.58"/>
<path d="M596.8,32.6 L604.8,48.1 L597.9,32.3Z" fill-opacity="0.71"/>
<path d="M564.5,55.7 L579.2,62.5 L565.5,54.3Z" fill-opacity="0.62"/>
<path d="M639.5,143.9 L633.1,134.1 L638.8,144.2Z" fill-opacity="0.67"/>
<path d="M585.6,37.1 L591.1,39.8 L586.8,36.5Z" fill-opacity="0.76"/>
<path d="M570.0,49.0 L573.5,53.2 L570.5,48.5Z" fill-opacity="0.80"/>
<path d="M671.5,75.6 L650.8,80.5 L671.8,76.8Z" fill-opacity="0.90"/>
<path d="M597.3,32.4 L598.4,36.3 L598.4,32.1Z" fill-opacity="0.88"/>
<path d="M653.2,134.7 L640.4,122.9 L652.3,135.5Z" fill-opacity="0.55"/>
<path d="M561.4,60.7 L574.5,67.3 L561.8,59.9Z" fill-opacity="0.91"/>
<path d="M603.8,149.0 L602.9,130.6 L603.2,148.9Z" fill-opacity="0.70"/>
<path d="M587.3,36.2 L590.8,44.4 L588.0,35.9Z" fill-opacity="0.96"/>
<path d="M650.3,42.9 L647.0,44.5 L651.6,43.9Z" fill-opacity="0.79"/>
<path d="M647.5,139.2 L636.0,126.1 L646.5,139.8Z" fill-opacity="0.73"/>
<path d="M632.2,146.8 L631.6,132.2 L631.7,147.0Z" fill-opacity="0.65"/>
<path d="M613.7,149.8 L612.7,126.4 L612.5,149.8Z" fill-opacity="0.95"/>
<path d="M630.7,32.7 L628.6,53.0 L632.1,33.2Z" fill-opacity="0.81"/>
<path d="M554.6,79.5 L559.5,74.3 L554.8,78.6Z" fill-opacity="0.92"/>
<path d="M577.9,138.0 L582.7,133.9 L577.2,137.5Z" fill-opacity="0.97"/>
<path d="M579.1,138.9 L587.1,122.1 L578.2,138.2Z" fill-opacity="0.64"/>
<path d="M604.6,30.9 L607.8,41.2 L605.9,30.7Z" fill-opacity="0.71"/>
<path d="M641.1,37.0 L634.2,38.4 L641.6,37.2Z" fill-opacity="0.87"/>
<path d="M567.0,127.6 L578.6,124.4 L566.6,127.1Z" fill-opacity="0.56"/>
<path d="M672.9,96.7 L647.0,97.1 L672.7,98.3Z" fill-opacity="0.78"/>
<path d="M673.1,85.5 L663.7,82.9 L673.2,86.2Z" fill-opacity="0.89"/>
<path d="M670.4,71.6 L666.4,73.6 L670.9,73.2Z" fill-opacity="0.76"/>
<path d="M606.0,149.3 L605.0,145.0 L604.6,149.1Z" fill-opacity="0.61"/>
<path d="M665.7,119.1 L659.2,111.1 L665.3,119.9Z" fill-opacity="0.96"/>
<path d="M598.7,147.9 L602.6,135.7 L597.9,147.7Z" fill-opacity="0.89"/>
<path d="M659.4,51.7 L653.0,50.7 L660.0,52.4Z" fill-opacity="0.97"/>
<path d="M590.8,34.7 L594.0,41.9 L592.3,34.1Z" fill-opacity="0.74"/>
<path d="M663.0,123.6 L640.5,110.0 L662.6,124.1Z" fill-opacity="0.85"/>
<path d="M618.0,149.6 L620.0,133.7 L616.3,149.7Z" fill-opacity="0.63"/>
<path d="M624.8,148.7 L622.8,144.3 L623.9,148.9Z" fill-opacity="0.60"/>
<path d="M572.1,133.1 L579.7,118.4 L571.1,132.2Z" fill-opacity="0.74"/>
<path d="M612.2,30.2 L610.8,46.3 L613.0,30.2Z" fill-opacity="0.66"/>
<path d="M657.3,49.3 L656.6,53.7 L657.8,49.8Z" fill-opacity="0.59"/>
<path d="M659.2,128.6 L650.7,126.3 L658.5,129.4Z" fill-opacity="0.66"/>
<path d="M628.8,147.8 L621.1,138.6 L627.9,148.0Z" fill-opacity="0.64"/>
<path d="M625.7,31.5 L623.4,52.3 L627.3,31.8Z" fill-opacity="0.97"/>
<path d="M642.3,37.6 L630.3,56.0 L643.2,38.1Z" fill-opacity="0.82"/>
<path d="M669.6,110.6 L662.2,112.4 L669.4,111.2Z" fill-opacity="0.88"/>
<path d="M565.1,54.9 L566.6,58.1 L565.8,53.9Z" fill-opacity="0.73"/>
<path d="M667.8,64.9 L658.5,65.9 L668.1,65.6Z" fill-opacity="0.95"/>
</g>
<g fill="none" stroke="#a07fcf" stroke-width="0.8" stroke-opacity="0.8">
<line x1="617.7" y1="30.3" x2="620.4" y2="46.7"/>
<line x1="621.8" y1="30.8" x2="624.3" y2="43.4"/>
<line x1="628.0" y1="32.0" x2="629.7" y2="42.9"/>
<line x1="635.9" y1="34.6" x2="635.7" y2="46.5"/>
<line x1="639.7" y1="36.3" x2="637.6" y2="49.9"/>
<line x1="561.7" y1="119.9" x2="567.5" y2="111.5"/>
<line x1="559.3" y1="115.3" x2="563.9" y2="108.1"/>
<line x1="555.0" y1="102.4" x2="564.1" y2="96.1"/>
<line x1="554.3" y1="98.3" x2="561.8" y2="92.7"/>
</g>
<path d="M613.50,28.50 A61.5,61.5 0 1 1 612.21,28.51" fill="none" stroke="#f9bf8f" stroke-width="4.0"/>
<g stroke="#eeaa72" stroke-width="0.5" stroke-opacity="0.7">
<line x1="660.6" y1="53.6" x2="663.8" y2="51.2"/>
<line x1="583.5" y1="38.6" x2="581.5" y2="35.2"/>
<line x1="559.2" y1="65.7" x2="555.5" y2="64.1"/>
<line x1="554.7" y1="80.9" x2="550.7" y2="80.3"/>
<line x1="672.9" y1="93.4" x2="676.9" y2="93.6"/>
<line x1="554.2" y1="94.4" x2="550.2" y2="94.7"/>
<line x1="664.4" y1="59.2" x2="667.8" y2="57.1"/>
<line x1="662.4" y1="123.8" x2="665.7" y2="126.1"/>
<line x1="560.9" y1="62.1" x2="557.4" y2="60.3"/>
<line x1="633.0" y1="146.2" x2="634.3" y2="150.0"/>
<line x1="646.1" y1="139.8" x2="648.3" y2="143.1"/>
<line x1="566.0" y1="54.2" x2="562.8" y2="51.8"/>
<line x1="611.1" y1="149.5" x2="610.9" y2="153.4"/>
<line x1="564.2" y1="123.3" x2="560.9" y2="125.5"/>
<line x1="564.1" y1="123.1" x2="560.7" y2="125.3"/>
<line x1="570.1" y1="49.3" x2="567.1" y2="46.6"/>
<line x1="590.5" y1="35.1" x2="588.9" y2="31.4"/>
<line x1="673.0" y1="87.8" x2="677.0" y2="87.6"/>
<line x1="643.0" y1="141.7" x2="645.0" y2="145.1"/>
<line x1="558.4" y1="67.5" x2="554.7" y2="66.0"/>
<line x1="555.6" y1="103.8" x2="551.7" y2="104.7"/>
<line x1="578.7" y1="41.7" x2="576.4" y2="38.5"/>
<line x1="650.4" y1="43.3" x2="652.8" y2="40.2"/>
<line x1="554.8" y1="99.5" x2="550.8" y2="100.1"/>
<line x1="611.7" y1="149.5" x2="611.6" y2="153.5"/>
<line x1="611.4" y1="30.5" x2="611.3" y2="26.5"/>
<line x1="632.5" y1="146.4" x2="633.8" y2="150.2"/>
<line x1="581.3" y1="40.0" x2="579.1" y2="36.6"/>
<line x1="666.1" y1="62.1" x2="669.6" y2="60.2"/>
<line x1="661.9" y1="124.6" x2="665.1" y2="127.0"/>
<line x1="665.6" y1="118.7" x2="669.1" y2="120.6"/>
<line x1="568.1" y1="128.5" x2="565.1" y2="131.1"/>
<line x1="671.7" y1="102.3" x2="675.6" y2="103.1"/>
<line x1="556.9" y1="108.2" x2="553.0" y2="109.4"/>
<line x1="631.2" y1="146.8" x2="632.4" y2="150.6"/>
<line x1="568.2" y1="128.6" x2="565.1" y2="131.2"/>
<line x1="622.5" y1="148.8" x2="623.1" y2="152.8"/>
<line x1="554.6" y1="81.4" x2="550.7" y2="80.9"/>
<line x1="672.3" y1="80.9" x2="676.3" y2="80.3"/>
<line x1="554.0" y1="87.7" x2="550.0" y2="87.6"/>
<line x1="582.7" y1="140.9" x2="580.6" y2="144.3"/>
<line x1="563.9" y1="122.9" x2="560.6" y2="125.1"/>
<line x1="592.0" y1="34.5" x2="590.6" y2="30.8"/>
<line x1="579.2" y1="138.6" x2="576.9" y2="141.9"/>
<line x1="671.1" y1="105.1" x2="674.9" y2="106.1"/>
<line x1="599.8" y1="147.9" x2="598.9" y2="151.8"/>
<line x1="592.4" y1="145.6" x2="590.9" y2="149.4"/>
<line x1="587.1" y1="36.7" x2="585.3" y2="33.1"/>
<line x1="557.7" y1="110.5" x2="553.9" y2="111.9"/>
<line x1="576.3" y1="136.4" x2="573.8" y2="139.6"/>
<line x1="590.2" y1="35.3" x2="588.6" y2="31.6"/>
<line x1="668.1" y1="66.5" x2="671.8" y2="64.9"/>
<line x1="555.0" y1="79.2" x2="551.1" y2="78.4"/>
<line x1="559.6" y1="115.2" x2="556.0" y2="116.9"/>
<line x1="579.8" y1="40.9" x2="577.6" y2="37.6"/>
<line x1="572.9" y1="46.5" x2="570.2" y2="43.5"/>
<line x1="573.7" y1="134.3" x2="571.1" y2="137.2"/>
<line x1="555.2" y1="102.1" x2="551.3" y2="102.9"/>
<line x1="602.7" y1="31.5" x2="601.9" y2="27.6"/>
<line x1="556.5" y1="107.0" x2="552.6" y2="108.2"/>
<line x1="653.5" y1="45.9" x2="656.1" y2="42.9"/>
<line x1="655.9" y1="131.7" x2="658.8" y2="134.5"/>
<line x1="556.0" y1="74.7" x2="552.1" y2="73.7"/>
<line x1="649.0" y1="137.8" x2="651.4" y2="141.0"/>
<line x1="583.5" y1="38.6" x2="581.4" y2="35.2"/>
<line x1="627.0" y1="147.9" x2="627.9" y2="151.8"/>
<line x1="554.1" y1="85.8" x2="550.2" y2="85.6"/>
<line x1="610.8" y1="30.6" x2="610.6" y2="26.6"/>
<line x1="566.7" y1="126.8" x2="563.6" y2="129.2"/>
<line x1="671.6" y1="102.8" x2="675.5" y2="103.7"/>
<line x1="590.3" y1="144.8" x2="588.7" y2="148.5"/>
<line x1="648.1" y1="138.4" x2="650.4" y2="141.7"/>
<line x1="594.6" y1="33.6" x2="593.3" y2="29.8"/>
<line x1="618.5" y1="149.3" x2="618.9" y2="153.3"/>
<line x1="650.4" y1="136.6" x2="652.9" y2="139.8"/>
<line x1="598.1" y1="147.5" x2="597.1" y2="151.3"/>
<line x1="555.8" y1="104.6" x2="551.9" y2="105.6"/>
<line x1="564.9" y1="55.7" x2="561.6" y2="53.4"/>
<line x1="564.6" y1="123.9" x2="561.3" y2="126.1"/>
<line x1="596.3" y1="146.9" x2="595.1" y2="150.8"/>
<line x1="556.9" y1="108.5" x2="553.1" y2="109.7"/>
<line x1="672.5" y1="97.8" x2="676.4" y2="98.4"/>
<line x1="557.3" y1="109.6" x2="553.5" y2="110.9"/>
<line x1="566.4" y1="53.6" x2="563.2" y2="51.2"/>
<line x1="556.1" y1="74.3" x2="552.2" y2="73.3"/>
<line x1="602.6" y1="148.5" x2="601.9" y2="152.4"/>
<line x1="673.0" y1="92.2" x2="677.0" y2="92.3"/>
<line x1="595.5" y1="33.3" x2="594.3" y2="29.5"/>
<line x1="562.3" y1="59.7" x2="558.9" y2="57.6"/>
<line x1="580.8" y1="139.7" x2="578.6" y2="143.0"/>
<line x1="672.9" y1="87.1" x2="676.9" y2="86.9"/>
<line x1="672.6" y1="83.5" x2="676.6" y2="83.0"/>
<line x1="556.3" y1="73.5" x2="552.5" y2="72.4"/>
<line x1="670.3" y1="107.8" x2="674.1" y2="109.0"/>
<line x1="667.3" y1="115.5" x2="670.9" y2="117.2"/>
<line x1="599.2" y1="32.3" x2="598.2" y2="28.4"/>
<line x1="672.8" y1="84.9" x2="676.8" y2="84.6"/>
<line x1="648.6" y1="138.1" x2="650.9" y2="141.3"/>
<line x1="665.2" y1="60.6" x2="668.7" y2="58.6"/>
<line x1="562.6" y1="120.8" x2="559.2" y2="122.9"/>
<line x1="671.0" y1="74.6" x2="674.8" y2="73.6"/>
<line x1="556.0" y1="105.3" x2="552.1" y2="106.3"/>
<line x1="603.6" y1="148.7" x2="603.0" y2="152.6"/>
<line x1="604.9" y1="148.9" x2="604.3" y2="152.8"/>
<line x1="554.7" y1="98.9" x2="550.7" y2="99.4"/>
<line x1="645.0" y1="39.5" x2="647.1" y2="36.1"/>
<line x1="555.6" y1="103.6" x2="551.7" y2="104.5"/>
<line x1="670.6" y1="73.3" x2="674.4" y2="72.1"/>
<line x1="561.9" y1="119.6" x2="558.4" y2="121.5"/>
<line x1="555.1" y1="101.4" x2="551.2" y2="102.2"/>
<line x1="670.6" y1="73.4" x2="674.5" y2="72.2"/>
<line x1="554.6" y1="98.1" x2="550.6" y2="98.7"/>
<line x1="573.1" y1="133.7" x2="570.4" y2="136.7"/>
<line x1="669.8" y1="109.3" x2="673.6" y2="110.6"/>
<line x1="563.9" y1="122.9" x2="560.6" y2="125.1"/>
<line x1="668.9" y1="68.4" x2="672.7" y2="66.9"/>
<line x1="624.6" y1="148.5" x2="625.3" y2="152.4"/>
<line x1="591.9" y1="34.6" x2="590.5" y2="30.8"/>
<line x1="556.9" y1="108.3" x2="553.1" y2="109.6"/>
<line x1="672.2" y1="80.5" x2="676.2" y2="79.8"/>
</g>
<path d="M613.50,28.50 A61.5,61.5 0 0 1 642.85,35.95" fill="none" stroke="#d4683a" stroke-width="4.0"/>
<path d="M564.06,126.58 A61.5,61.5 0 0 1 552.60,98.56" fill="none" stroke="#d4683a" stroke-width="4.0"/>
<path d="M613.50,22.10 A67.9,67.9 0 1 1 559.99,131.80" fill="none" stroke="#2f837b" stroke-width="2.6"/>
<path d="M559.06,130.58 A67.9,67.9 0 0 1 612.08,22.11" fill="none" stroke="#dd6b2c" stroke-width="2.8"/>
<ellipse cx="613.2" cy="90" rx="2.2" ry="1.8" fill="#fff"/>
<text transform="translate(613.30,103.00) rotate(0.03)" font-size="8.7" text-anchor="middle" font-weight="normal" fill="#111" >Down</text>
</g>
<g id="pc">
<text transform="translate(0.20,214.30) rotate(0.03)" font-size="12.8" text-anchor="start" font-weight="bold" fill="#000" >c</text>
<rect x="21.9" y="217.20" width="43.90" height="7.72" fill="#9a3016"/>
<rect x="65.3" y="217.20" width="43.70" height="7.72" fill="#fec44f"/>
<text transform="translate(112.20,222.66) rotate(0.03) scale(1.0385,1)" font-size="6.2" text-anchor="start" font-weight="normal" fill="#111" >GO:0051090: Regulation of DNA-binding transcription factor activity</text>
<rect x="21.9" y="223.71" width="43.90" height="7.72" fill="#a93a14"/>
<rect x="65.3" y="223.71" width="43.70" height="7.72" fill="#fec44f"/>
<text transform="translate(112.20,229.17) rotate(0.03) scale(1.0355,1)" font-size="6.2" text-anchor="start" font-weight="normal" fill="#111" >GO:0045785: Positive regulation of cell adhesion</text>
<rect x="21.9" y="230.23" width="43.90" height="7.72" fill="#9a3016"/>
<rect x="65.3" y="230.23" width="43.70" height="7.72" fill="#feca56"/>
<text transform="translate(112.20,235.69) rotate(0.03) scale(1.0118,1)" font-size="6.2" text-anchor="start" font-weight="normal" fill="#111" >GO:0031347: Regulation of defense response</text>
<rect x="21.9" y="236.75" width="43.90" height="7.72" fill="#bf4a14"/>
<rect x="65.3" y="236.75" width="43.70" height="7.72" fill="#fdae38"/>
<text transform="translate(112.20,242.20) rotate(0.03) scale(1.0285,1)" font-size="6.2" text-anchor="start" font-weight="normal" fill="#111" >GO:0048871: Multicellular organismal-level homeostasis</text>
<rect x="21.9" y="243.26" width="43.90" height="7.72" fill="#bf4a14"/>
<rect x="65.3" y="243.26" width="43.70" height="7.72" fill="#fdba43"/>
<text transform="translate(112.20,248.72) rotate(0.03) scale(1.0115,1)" font-size="6.2" text-anchor="start" font-weight="normal" fill="#111" >R-HSA-73887: Death receptor signalling</text>
<rect x="21.9" y="249.77" width="43.90" height="7.72" fill="#b24013"/>
<rect x="65.3" y="249.77" width="43.70" height="7.72" fill="#f0890b"/>
<text transform="translate(112.20,255.23) rotate(0.03) scale(1.029,1)" font-size="6.2" text-anchor="start" font-weight="normal" fill="#111" >GO:0045087: Innate immune response</text>
<rect x="21.9" y="256.29" width="43.90" height="7.72" fill="#9a3016"/>
<rect x="65.3" y="256.29" width="43.70" height="7.72" fill="#fdae38"/>
<text transform="translate(112.20,261.75) rotate(0.03) scale(0.9913,1)" font-size="6.2" text-anchor="start" font-weight="normal" fill="#111" >R-HSA-1280215: Cy10kine signalling in immune system</text>
<rect x="21.9" y="262.81" width="43.90" height="7.72" fill="#9a3016"/>
<rect x="65.3" y="262.81" width="43.70" height="7.72" fill="#fdc04a"/>
<text transform="translate(112.20,268.26) rotate(0.03) scale(1.023,1)" font-size="6.2" text-anchor="start" font-weight="normal" fill="#111" >hsa04668: TNF signalling pathway</text>
<rect x="21.9" y="269.32" width="43.90" height="7.72" fill="#b24013"/>
<rect x="65.3" y="269.32" width="43.70" height="7.72" fill="#fee6a0"/>
<text transform="translate(112.20,274.78) rotate(0.03) scale(1.0354,1)" font-size="6.2" text-anchor="start" font-weight="normal" fill="#111" >GO:2000147: Positive regulation of cell motility</text>
<rect x="21.9" y="275.83" width="43.90" height="7.72" fill="#ba4514"/>
<rect x="65.3" y="275.83" width="43.70" height="7.72" fill="#fff0b8"/>
<text transform="translate(112.20,281.29) rotate(0.03) scale(1.0208,1)" font-size="6.2" text-anchor="start" font-weight="normal" fill="#111" >hsa05200: Pathways in cancer</text>
<rect x="21.9" y="282.35" width="43.90" height="7.72" fill="#a93a14"/>
<rect x="65.3" y="282.35" width="43.70" height="7.72" fill="#fee6a0"/>
<text transform="translate(112.20,287.81) rotate(0.03) scale(1.0302,1)" font-size="6.2" text-anchor="start" font-weight="normal" fill="#111" >GO:0042327: Positive regulation of phosphorylation</text>
<rect x="21.9" y="288.87" width="43.90" height="7.72" fill="#9a3016"/>
<rect x="65.3" y="288.87" width="43.70" height="7.72" fill="#e1e1e1"/>
<text transform="translate(112.20,294.32) rotate(0.03) scale(1.0447,1)" font-size="6.2" text-anchor="start" font-weight="normal" fill="#111" >GO:0030029: Actin filament-based process</text>
<rect x="21.9" y="295.38" width="43.90" height="7.72" fill="#9a3016"/>
<rect x="65.3" y="295.38" width="43.70" height="7.72" fill="#e1e1e1"/>
<text transform="translate(112.20,300.84) rotate(0.03) scale(1.0176,1)" font-size="6.2" text-anchor="start" font-weight="normal" fill="#111" >GO:0051056: Regulation of small GTPase-mediated signal transduction</text>
<rect x="21.9" y="301.89" width="43.90" height="7.72" fill="#9a3016"/>
<rect x="65.3" y="301.89" width="43.70" height="7.72" fill="#e1e1e1"/>
<text transform="translate(112.20,307.35) rotate(0.03) scale(1.0442,1)" font-size="6.2" text-anchor="start" font-weight="normal" fill="#111" >GO:0006468: Protein phosphorylation</text>
<rect x="21.9" y="308.41" width="43.90" height="7.72" fill="#9a3016"/>
<rect x="65.3" y="308.41" width="43.70" height="7.72" fill="#e1e1e1"/>
<text transform="translate(112.20,313.87) rotate(0.03) scale(0.9779,1)" font-size="6.2" text-anchor="start" font-weight="normal" fill="#111" >R-HSA-9012999: Rho GTPase cycle</text>
<rect x="21.9" y="314.93" width="43.90" height="7.72" fill="#bf4a14"/>
<rect x="65.3" y="314.93" width="43.70" height="7.72" fill="#e1e1e1"/>
<text transform="translate(112.20,320.38) rotate(0.03) scale(1.0238,1)" font-size="6.2" text-anchor="start" font-weight="normal" fill="#111" >R-HSA-5663202: Diseases of signal transduction by growth factor receptors</text>
<rect x="21.9" y="321.44" width="43.90" height="7.72" fill="#bf4a14"/>
<rect x="65.3" y="321.44" width="43.70" height="7.72" fill="#e1e1e1"/>
<text transform="translate(112.20,326.90) rotate(0.03) scale(1.0288,1)" font-size="6.2" text-anchor="start" font-weight="normal" fill="#111" >GO:0051129: Negative regulation of cellular component organization</text>
<rect x="21.9" y="327.95" width="43.90" height="7.72" fill="#b24013"/>
<rect x="65.3" y="327.95" width="43.70" height="7.72" fill="#e1e1e1"/>
<text transform="translate(112.20,333.41) rotate(0.03) scale(1.0291,1)" font-size="6.2" text-anchor="start" font-weight="normal" fill="#111" >GO:0007167: Enzyme-linked receptor protein signalling pathway</text>
<rect x="21.9" y="334.47" width="43.90" height="7.72" fill="#a03416"/>
<rect x="65.3" y="334.47" width="43.70" height="7.72" fill="#e1e1e1"/>
<text transform="translate(112.20,339.93) rotate(0.03) scale(1.0364,1)" font-size="6.2" text-anchor="start" font-weight="normal" fill="#111" >GO:0006325: Chromatin organization</text>
<rect x="21.9" y="340.99" width="43.90" height="6.52" fill="#b24013"/>
<rect x="65.3" y="340.99" width="43.70" height="6.52" fill="#e1e1e1"/>
<text transform="translate(112.20,346.44) rotate(0.03) scale(1.0354,1)" font-size="6.2" text-anchor="start" font-weight="normal" fill="#111" >GO:0010975: Regulation of neuron projection development</text>
<path d="M43.6,217.2 V211.89999999999998 H87.2 V217.2" fill="none" stroke="#1a1a1a" stroke-width="0.75"/>
<text transform="translate(43.60,355.60) rotate(0.03) scale(0.91,1)" font-size="6.0" text-anchor="middle" font-weight="normal" fill="#222" >LIVE_vs_CTR</text>
<text transform="translate(87.15,355.60) rotate(0.03) scale(0.91,1)" font-size="6.0" text-anchor="middle" font-weight="normal" fill="#222" >SUP_vs_CTR</text>
<text transform="translate(64.80,365.80) rotate(0.03) scale(1.05,1)" font-size="7.2" text-anchor="middle" font-weight="normal" fill="#222" >Up</text>
<path d="M1,268 V321.7 M1,268 H5.4 M5.4,255.4 V281 M5.4,255.4 H13.5 M5.4,281 H21 M13.5,240.6 V262.7 M13.5,240.6 H21 M13.5,262.7 H21 M13.9,246 V253 H21 M1,321.7 H14.4 M14.4,306.3 V337.7 M14.4,306.3 H21 M14.4,337.7 H21" fill="none" stroke="#1a1a1a" stroke-width="0.75"/>
<line x1="20.6" y1="219" x2="20.6" y2="346" stroke="#bbb" stroke-width="0.9" stroke-dasharray="5 1.5"/>
<defs><linearGradient id="cbc" x1="0" x2="1" y1="0" y2="0"><stop offset="0" stop-color="#f1f1e6"/><stop offset="0.07" stop-color="#fbf9d6"/><stop offset="0.11" stop-color="#fff0a8"/><stop offset="0.2" stop-color="#fec44f"/><stop offset="0.3" stop-color="#fe9929"/><stop offset="0.5" stop-color="#d95f0e"/><stop offset="1" stop-color="#933004"/></linearGradient></defs>
<rect x="280.8" y="195.5" width="41.19999999999999" height="10.300000000000011" fill="url(#cbc)"/>
<text x="301.4" y="192.1" font-size="5.4" text-anchor="middle" fill="#222">−log<tspan font-size="3.5" dy="1.1">10</tspan><tspan dy="-1.1">(</tspan><tspan font-style="italic">P</tspan>)</text>
<line x1="280.8" y1="205.8" x2="280.8" y2="207.0" stroke="#666" stroke-width="0.4"/>
<text transform="translate(280.80,212.00) rotate(0.03)" font-size="4.5" text-anchor="middle" font-weight="normal" fill="#333" >0</text>
<line x1="284.9" y1="205.8" x2="284.9" y2="207.0" stroke="#666" stroke-width="0.4"/>
<text transform="translate(284.92,212.00) rotate(0.03)" font-size="4.5" text-anchor="middle" font-weight="normal" fill="#333" >2</text>
<line x1="287.0" y1="205.8" x2="287.0" y2="207.0" stroke="#666" stroke-width="0.4"/>
<text transform="translate(286.98,212.00) rotate(0.03)" font-size="4.5" text-anchor="middle" font-weight="normal" fill="#333" >3</text>
<line x1="289.0" y1="205.8" x2="289.0" y2="207.0" stroke="#666" stroke-width="0.4"/>
<text transform="translate(289.04,212.00) rotate(0.03)" font-size="4.5" text-anchor="middle" font-weight="normal" fill="#333" >4</text>
<line x1="293.2" y1="205.8" x2="293.2" y2="207.0" stroke="#666" stroke-width="0.4"/>
<text transform="translate(293.16,212.00) rotate(0.03)" font-size="4.5" text-anchor="middle" font-weight="normal" fill="#333" >6</text>
<line x1="301.4" y1="205.8" x2="301.4" y2="207.0" stroke="#666" stroke-width="0.4"/>
<text transform="translate(301.40,212.00) rotate(0.03)" font-size="4.5" text-anchor="middle" font-weight="normal" fill="#333" >10</text>
<line x1="322.0" y1="205.8" x2="322.0" y2="207.0" stroke="#666" stroke-width="0.4"/>
<text transform="translate(322.00,212.00) rotate(0.03)" font-size="4.5" text-anchor="middle" font-weight="normal" fill="#333" >20</text>
</g>
<g id="pd">
<text transform="translate(346.40,214.00) rotate(0.03)" font-size="12.8" text-anchor="start" font-weight="bold" fill="#000" >d</text>
<rect x="384.4" y="217.20" width="44.00" height="7.72" fill="#97330b"/>
<rect x="427.9" y="217.20" width="43.60" height="7.72" fill="#cc5510"/>
<text transform="translate(475.50,222.66) rotate(0.03) scale(1.0557,1)" font-size="6.2" text-anchor="start" font-weight="normal" fill="#111" >GO:0000278: Mitotic cell cycle</text>
<rect x="384.4" y="223.71" width="44.00" height="7.72" fill="#97330b"/>
<rect x="427.9" y="223.71" width="43.60" height="7.72" fill="#ca5410"/>
<text transform="translate(475.50,229.17) rotate(0.03) scale(1.032,1)" font-size="6.2" text-anchor="start" font-weight="normal" fill="#111" >GO:0006259: DNA metabolic process</text>
<rect x="384.4" y="230.23" width="44.00" height="7.72" fill="#97330b"/>
<rect x="427.9" y="230.23" width="43.60" height="7.72" fill="#d05a12"/>
<text transform="translate(475.50,235.69) rotate(0.03) scale(1.0234,1)" font-size="6.2" text-anchor="start" font-weight="normal" fill="#111" >GO:0022613: Ribonucleoprotein complex biogenesis</text>
<rect x="384.4" y="236.75" width="44.00" height="7.72" fill="#97330b"/>
<rect x="427.9" y="236.75" width="43.60" height="7.72" fill="#a63b0e"/>
<text transform="translate(475.50,242.20) rotate(0.03) scale(0.9805,1)" font-size="6.2" text-anchor="start" font-weight="normal" fill="#111" >R-HSA-1640170: Cell cycle</text>
<rect x="384.4" y="243.26" width="44.00" height="7.72" fill="#97330b"/>
<rect x="427.9" y="243.26" width="43.60" height="7.72" fill="#9c340e"/>
<text transform="translate(475.50,248.72) rotate(0.03) scale(0.9927,1)" font-size="6.2" text-anchor="start" font-weight="normal" fill="#111" >R-HSA-8953854: Metabolism of RNA</text>
<rect x="384.4" y="249.77" width="44.00" height="7.72" fill="#9f370b"/>
<rect x="427.9" y="249.77" width="43.60" height="7.72" fill="#d86416"/>
<text transform="translate(475.50,255.23) rotate(0.03) scale(1.016,1)" font-size="6.2" text-anchor="start" font-weight="normal" fill="#111" >R-HSA-3700989: Transcriptional regulation by TP53</text>
<rect x="384.4" y="256.29" width="44.00" height="7.72" fill="#ac4110"/>
<rect x="427.9" y="256.29" width="43.60" height="7.72" fill="#c8540f"/>
<text transform="translate(475.50,261.75) rotate(0.03) scale(1.0248,1)" font-size="6.2" text-anchor="start" font-weight="normal" fill="#111" >GO:0030163: Protein catabolic process</text>
<rect x="384.4" y="262.81" width="44.00" height="7.72" fill="#97330b"/>
<rect x="427.9" y="262.81" width="43.60" height="7.72" fill="#e87a1c"/>
<text transform="translate(475.50,268.26) rotate(0.03) scale(1.035,1)" font-size="6.2" text-anchor="start" font-weight="normal" fill="#111" >GO:0033365: Protein localization to organelle</text>
<rect x="384.4" y="269.32" width="44.00" height="7.72" fill="#97330b"/>
<rect x="427.9" y="269.32" width="43.60" height="7.72" fill="#f89628"/>
<text transform="translate(475.50,274.78) rotate(0.03) scale(0.9825,1)" font-size="6.2" text-anchor="start" font-weight="normal" fill="#111" >R-HSA-73894: DNA repair</text>
<rect x="384.4" y="275.83" width="44.00" height="7.72" fill="#97330b"/>
<rect x="427.9" y="275.83" width="43.60" height="7.72" fill="#e06c16"/>
<text transform="translate(475.50,281.29) rotate(0.03) scale(1.0431,1)" font-size="6.2" text-anchor="start" font-weight="normal" fill="#111" >GO:0006260: DNA replication</text>
<rect x="384.4" y="282.35" width="44.00" height="7.72" fill="#97330b"/>
<rect x="427.9" y="282.35" width="43.60" height="7.72" fill="#f48e24"/>
<text transform="translate(475.50,287.81) rotate(0.03) scale(1.0099,1)" font-size="6.2" text-anchor="start" font-weight="normal" fill="#111" >R-HSA-1428517: The citric acid cycle and respiratory electron transport</text>
<rect x="384.4" y="288.87" width="44.00" height="7.72" fill="#97330b"/>
<rect x="427.9" y="288.87" width="43.60" height="7.72" fill="#f28a22"/>
<text transform="translate(475.50,294.32) rotate(0.03) scale(0.9639,1)" font-size="6.2" text-anchor="start" font-weight="normal" fill="#111" >GO:0007005: Mitochondrion organization</text>
<rect x="384.4" y="295.38" width="44.00" height="7.72" fill="#a23a0c"/>
<rect x="427.9" y="295.38" width="43.60" height="7.72" fill="#fa9a2a"/>
<text transform="translate(475.50,300.84) rotate(0.03) scale(1.0159,1)" font-size="6.2" text-anchor="start" font-weight="normal" fill="#111" >R-HSA-446203: Asparagine N-linked glycosylation</text>
<rect x="384.4" y="301.89" width="44.00" height="7.72" fill="#b8480f"/>
<rect x="427.9" y="301.89" width="43.60" height="7.72" fill="#e87818"/>
<text transform="translate(475.50,307.35) rotate(0.03) scale(1.0155,1)" font-size="6.2" text-anchor="start" font-weight="normal" fill="#111" >R-HSA-6798695: Neutrophil degranulation</text>
<rect x="384.4" y="308.41" width="44.00" height="7.72" fill="#a53c0e"/>
<rect x="427.9" y="308.41" width="43.60" height="7.72" fill="#fa9a2a"/>
<text transform="translate(475.50,313.87) rotate(0.03) scale(1.0096,1)" font-size="6.2" text-anchor="start" font-weight="normal" fill="#111" >R-HSA-556833: Metabolism of lipids</text>
<rect x="384.4" y="314.93" width="44.00" height="7.72" fill="#c04c10"/>
<rect x="427.9" y="314.93" width="43.60" height="7.72" fill="#e2701a"/>
<text transform="translate(475.50,320.38) rotate(0.03) scale(1.0155,1)" font-size="6.2" text-anchor="start" font-weight="normal" fill="#111" >GO:0061024: Membrane organization</text>
<rect x="384.4" y="321.44" width="44.00" height="7.72" fill="#b04410"/>
<rect x="427.9" y="321.44" width="43.60" height="7.72" fill="#fc9c2a"/>
<text transform="translate(475.50,326.90) rotate(0.03) scale(0.9887,1)" font-size="6.2" text-anchor="start" font-weight="normal" fill="#111" >R-HSA-72165: mRNA splicing, minor pathway</text>
<rect x="384.4" y="327.95" width="44.00" height="7.72" fill="#97330b"/>
<rect x="427.9" y="327.95" width="43.60" height="7.72" fill="#fc9e2c"/>
<text transform="translate(475.50,333.41) rotate(0.03) scale(1.0288,1)" font-size="6.2" text-anchor="start" font-weight="normal" fill="#111" >R-HSA-5389840: Mitochondrial translation elongation</text>
<rect x="384.4" y="334.47" width="44.00" height="7.72" fill="#97330b"/>
<rect x="427.9" y="334.47" width="43.60" height="7.72" fill="#fdb444"/>
<text transform="translate(475.50,339.93) rotate(0.03) scale(1.0121,1)" font-size="6.2" text-anchor="start" font-weight="normal" fill="#111" >R-HSA-9609507: Protein localization</text>
<rect x="384.4" y="340.99" width="44.00" height="6.52" fill="#97330b"/>
<rect x="427.9" y="340.99" width="43.60" height="6.52" fill="#fed98a"/>
<text transform="translate(475.50,346.44) rotate(0.03) scale(1.0332,1)" font-size="6.2" text-anchor="start" font-weight="normal" fill="#111" >GO:0006399: tRNA metabolic process</text>
<path d="M406.1,217.2 V211.89999999999998 H449.7 V217.2" fill="none" stroke="#1a1a1a" stroke-width="0.75"/>
<text transform="translate(406.15,355.60) rotate(0.03) scale(0.91,1)" font-size="6.0" text-anchor="middle" font-weight="normal" fill="#222" >LIVE_vs_CTR</text>
<text transform="translate(449.70,355.60) rotate(0.03) scale(0.91,1)" font-size="6.0" text-anchor="middle" font-weight="normal" fill="#222" >SUP_vs_CTR</text>
<text transform="translate(427.90,365.80) rotate(0.03) scale(1.05,1)" font-size="7.2" text-anchor="middle" font-weight="normal" fill="#222" >Down</text>
<path d="M349.8,275.3 V338.8 M349.8,275.3 H356.3 M356.3,249 V302.2 M356.3,249 H360.6 M360.6,240.5 V254 M360.6,254 H383.5 M360.6,240.5 H363 M363,235 V246.4 M363,235 H383.5 M363,246.4 H383.5 M356.3,302.2 H363 M363,286 V316.7 M363,286 H383.5 M363,316.7 H383.5 M349.8,338.8 H363 M363,334.3 V344.4 M363,334.3 H383.5 M363,344.4 H383.5" fill="none" stroke="#1a1a1a" stroke-width="0.75"/>
<line x1="383.4" y1="219" x2="383.4" y2="346" stroke="#bbb" stroke-width="0.9" stroke-dasharray="5 1.5"/>
<defs><linearGradient id="cbd" x1="0" x2="1" y1="0" y2="0"><stop offset="0" stop-color="#f1f1e6"/><stop offset="0.07" stop-color="#fbf9d6"/><stop offset="0.11" stop-color="#fff0a8"/><stop offset="0.2" stop-color="#fec44f"/><stop offset="0.3" stop-color="#fe9929"/><stop offset="0.5" stop-color="#d95f0e"/><stop offset="1" stop-color="#933004"/></linearGradient></defs>
<rect x="629.2" y="197" width="41.5" height="10.5" fill="url(#cbd)"/>
<text x="649.95" y="193.6" font-size="5.4" text-anchor="middle" fill="#222">−log<tspan font-size="3.5" dy="1.1">10</tspan><tspan dy="-1.1">(</tspan><tspan font-style="italic">P</tspan>)</text>
<line x1="629.2" y1="207.5" x2="629.2" y2="208.7" stroke="#666" stroke-width="0.4"/>
<text transform="translate(629.20,213.70) rotate(0.03)" font-size="4.5" text-anchor="middle" font-weight="normal" fill="#333" >0</text>
<line x1="633.4" y1="207.5" x2="633.4" y2="208.7" stroke="#666" stroke-width="0.4"/>
<text transform="translate(633.35,213.70) rotate(0.03)" font-size="4.5" text-anchor="middle" font-weight="normal" fill="#333" >2</text>
<line x1="635.4" y1="207.5" x2="635.4" y2="208.7" stroke="#666" stroke-width="0.4"/>
<text transform="translate(635.43,213.70) rotate(0.03)" font-size="4.5" text-anchor="middle" font-weight="normal" fill="#333" >3</text>
<line x1="637.5" y1="207.5" x2="637.5" y2="208.7" stroke="#666" stroke-width="0.4"/>
<text transform="translate(637.50,213.70) rotate(0.03)" font-size="4.5" text-anchor="middle" font-weight="normal" fill="#333" >4</text>
<line x1="641.7" y1="207.5" x2="641.7" y2="208.7" stroke="#666" stroke-width="0.4"/>
<text transform="translate(641.65,213.70) rotate(0.03)" font-size="4.5" text-anchor="middle" font-weight="normal" fill="#333" >6</text>
<line x1="650.0" y1="207.5" x2="650.0" y2="208.7" stroke="#666" stroke-width="0.4"/>
<text transform="translate(649.95,213.70) rotate(0.03)" font-size="4.5" text-anchor="middle" font-weight="normal" fill="#333" >10</text>
<line x1="670.7" y1="207.5" x2="670.7" y2="208.7" stroke="#666" stroke-width="0.4"/>
<text transform="translate(670.70,213.70) rotate(0.03)" font-size="4.5" text-anchor="middle" font-weight="normal" fill="#333" >20</text>
</g>
<g id="pe">
<text transform="translate(0.20,390.80) rotate(0.03)" font-size="12.8" text-anchor="start" font-weight="bold" fill="#000" >e</text>
<text transform="translate(58.90,393.80) rotate(0.03) scale(0.96,1)" font-size="8.2" text-anchor="middle" font-weight="normal" fill="#222" >SPF</text>
<text transform="translate(182.80,393.80) rotate(0.03) scale(0.96,1)" font-size="8.2" text-anchor="middle" font-weight="normal" fill="#222" >GF</text>
<text transform="translate(134.30,406.30) rotate(0.03)" font-size="9.1" text-anchor="middle" font-weight="normal" fill="#222" >versus</text>
<text transform="translate(134.30,470.80) rotate(0.03)" font-size="9.1" text-anchor="middle" font-weight="normal" fill="#222" >versus</text>
<g transform="translate(0,0)">
<path d="M57,413.2 C50,414.2 42,411.2 33,411.6 C25,412 19.6,416 19.2,420 C19,421.8 19.6,423 20.3,423.6" fill="none" stroke="#b1887f" stroke-width="1.5" stroke-linecap="round"/>
<path d="M62,415.6 L70,416.6 L69,417.5 L62.5,416.8Z" fill="#c9a29a"/><path d="M84,415.6 L91.5,417 L90.5,417.9 L84.5,416.9Z" fill="#c9a29a"/>
<ellipse cx="91.4" cy="398.4" rx="2.2" ry="2.9" fill="#5f504a"/>
<path d="M54.6,412.6 C54.8,408 56.4,402.5 61.1,398.2 C65,395.4 70,394.4 75.7,394.2 C80,394.1 85,395.3 88.8,397.5 C92.5,399 95,400.6 96.6,402.6 C98.6,405 100.2,408.6 101.7,412.6 C101.9,413.6 101,414.3 99.6,414.6 C95.6,415.6 92,415.9 88.8,415.9 C80,416.3 68,416.2 61.1,415.3 C57.6,415 54.8,414.4 54.6,412.6Z" fill="#6b5b54"/>
<ellipse cx="86.2" cy="401.5" rx="3.2" ry="3.7" fill="#5f504a"/><ellipse cx="86.3" cy="401.8" rx="2.2" ry="2.8" fill="#c39a97"/>
<ellipse cx="94.7" cy="407.7" rx="1.1" ry="0.9" fill="#15100e"/><circle cx="101.5" cy="412.9" r="0.7" fill="#c9a4a0"/>
<path d="M100.4,411.5 L104.4,409.4 M100.6,412.2 L104.6,411.2" stroke="#d5d5d5" stroke-width="0.35"/>
<ellipse cx="68.7" cy="407.7" rx="8.9" ry="7.4" fill="#fff"/>
<line x1="73.5" y1="407.1" x2="74.9" y2="407.1" transform="rotate(150 74.2 407.1)" stroke="#7fc0c8" stroke-width="0.55" stroke-linecap="round" stroke-opacity="0.85"/>
<line x1="69.4" y1="408.7" x2="70.8" y2="408.7" transform="rotate(88 70.1 408.7)" stroke="#2f7fa5" stroke-width="0.55" stroke-linecap="round" stroke-opacity="0.85"/>
<line x1="73.7" y1="409.0" x2="75.1" y2="409.0" transform="rotate(35 74.4 409.0)" stroke="#2f7fa5" stroke-width="0.55" stroke-linecap="round" stroke-opacity="0.85"/>
<line x1="67.1" y1="405.4" x2="68.5" y2="405.4" transform="rotate(29 67.8 405.4)" stroke="#3f93b5" stroke-width="0.55" stroke-linecap="round" stroke-opacity="0.85"/>
<line x1="64.5" y1="408.7" x2="65.9" y2="408.7" transform="rotate(30 65.2 408.7)" stroke="#2f7fa5" stroke-width="0.55" stroke-linecap="round" stroke-opacity="0.85"/>
<line x1="68.1" y1="407.7" x2="69.5" y2="407.7" transform="rotate(15 68.8 407.7)" stroke="#7fc0c8" stroke-width="0.55" stroke-linecap="round" stroke-opacity="0.85"/>
<line x1="66.7" y1="402.6" x2="68.1" y2="402.6" transform="rotate(48 67.4 402.6)" stroke="#9fd0d8" stroke-width="0.55" stroke-linecap="round" stroke-opacity="0.85"/>
<line x1="64.1" y1="403.7" x2="65.5" y2="403.7" transform="rotate(34 64.8 403.7)" stroke="#7fc0c8" stroke-width="0.55" stroke-linecap="round" stroke-opacity="0.85"/>
<line x1="67.9" y1="407.7" x2="69.3" y2="407.7" transform="rotate(116 68.6 407.7)" stroke="#3f93b5" stroke-width="0.55" stroke-linecap="round" stroke-opacity="0.85"/>
<line x1="63.7" y1="404.1" x2="65.1" y2="404.1" transform="rotate(118 64.4 404.1)" stroke="#2f7fa5" stroke-width="0.55" stroke-linecap="round" stroke-opacity="0.85"/>
<line x1="72.4" y1="409.6" x2="73.8" y2="409.6" transform="rotate(139 73.1 409.6)" stroke="#3f93b5" stroke-width="0.55" stroke-linecap="round" stroke-opacity="0.85"/>
<line x1="69.0" y1="406.4" x2="70.4" y2="406.4" transform="rotate(173 69.7 406.4)" stroke="#5aa9c5" stroke-width="0.55" stroke-linecap="round" stroke-opacity="0.85"/>
<line x1="62.2" y1="406.9" x2="63.6" y2="406.9" transform="rotate(18 62.9 406.9)" stroke="#5aa9c5" stroke-width="0.55" stroke-linecap="round" stroke-opacity="0.85"/>
<line x1="67.6" y1="406.1" x2="69.0" y2="406.1" transform="rotate(59 68.3 406.1)" stroke="#9fd0d8" stroke-width="0.55" stroke-linecap="round" stroke-opacity="0.85"/>
<line x1="70.2" y1="411.7" x2="71.6" y2="411.7" transform="rotate(41 70.9 411.7)" stroke="#2f7fa5" stroke-width="0.55" stroke-linecap="round" stroke-opacity="0.85"/>
<line x1="72.0" y1="411.4" x2="73.4" y2="411.4" transform="rotate(43 72.7 411.4)" stroke="#2f7fa5" stroke-width="0.55" stroke-linecap="round" stroke-opacity="0.85"/>
<line x1="71.6" y1="408.5" x2="73.0" y2="408.5" transform="rotate(163 72.3 408.5)" stroke="#7fc0c8" stroke-width="0.55" stroke-linecap="round" stroke-opacity="0.85"/>
<line x1="71.1" y1="406.8" x2="72.5" y2="406.8" transform="rotate(132 71.8 406.8)" stroke="#7fc0c8" stroke-width="0.55" stroke-linecap="round" stroke-opacity="0.85"/>
<line x1="72.0" y1="407.6" x2="73.4" y2="407.6" transform="rotate(26 72.7 407.6)" stroke="#3f93b5" stroke-width="0.55" stroke-linecap="round" stroke-opacity="0.85"/>
<line x1="68.1" y1="408.4" x2="69.5" y2="408.4" transform="rotate(16 68.8 408.4)" stroke="#7fc0c8" stroke-width="0.55" stroke-linecap="round" stroke-opacity="0.85"/>
<line x1="70.8" y1="408.3" x2="72.2" y2="408.3" transform="rotate(39 71.5 408.3)" stroke="#5aa9c5" stroke-width="0.55" stroke-linecap="round" stroke-opacity="0.85"/>
<line x1="67.9" y1="407.8" x2="69.3" y2="407.8" transform="rotate(154 68.6 407.8)" stroke="#9fd0d8" stroke-width="0.55" stroke-linecap="round" stroke-opacity="0.85"/>
<line x1="68.6" y1="405.5" x2="70.0" y2="405.5" transform="rotate(13 69.3 405.5)" stroke="#2f7fa5" stroke-width="0.55" stroke-linecap="round" stroke-opacity="0.85"/>
<line x1="72.4" y1="409.0" x2="73.8" y2="409.0" transform="rotate(11 73.1 409.0)" stroke="#2f7fa5" stroke-width="0.55" stroke-linecap="round" stroke-opacity="0.85"/>
<line x1="74.3" y1="408.0" x2="75.7" y2="408.0" transform="rotate(163 75.0 408.0)" stroke="#5aa9c5" stroke-width="0.55" stroke-linecap="round" stroke-opacity="0.85"/>
<line x1="69.0" y1="409.0" x2="70.4" y2="409.0" transform="rotate(145 69.7 409.0)" stroke="#7fc0c8" stroke-width="0.55" stroke-linecap="round" stroke-opacity="0.85"/>
</g>
<g transform="translate(121.7,0)">
<path d="M57,413.2 C50,414.2 42,411.2 33,411.6 C25,412 19.6,416 19.2,420 C19,421.8 19.6,423 20.3,423.6" fill="none" stroke="#b1887f" stroke-width="1.5" stroke-linecap="round"/>
<path d="M62,415.6 L70,416.6 L69,417.5 L62.5,416.8Z" fill="#c9a29a"/><path d="M84,415.6 L91.5,417 L90.5,417.9 L84.5,416.9Z" fill="#c9a29a"/>
<ellipse cx="91.4" cy="398.4" rx="2.2" ry="2.9" fill="#5f504a"/>
<path d="M54.6,412.6 C54.8,408 56.4,402.5 61.1,398.2 C65,395.4 70,394.4 75.7,394.2 C80,394.1 85,395.3 88.8,397.5 C92.5,399 95,400.6 96.6,402.6 C98.6,405 100.2,408.6 101.7,412.6 C101.9,413.6 101,414.3 99.6,414.6 C95.6,415.6 92,415.9 88.8,415.9 C80,416.3 68,416.2 61.1,415.3 C57.6,415 54.8,414.4 54.6,412.6Z" fill="#6b5b54"/>
<ellipse cx="86.2" cy="401.5" rx="3.2" ry="3.7" fill="#5f504a"/><ellipse cx="86.3" cy="401.8" rx="2.2" ry="2.8" fill="#c39a97"/>
<ellipse cx="94.7" cy="407.7" rx="1.1" ry="0.9" fill="#15100e"/><circle cx="101.5" cy="412.9" r="0.7" fill="#c9a4a0"/>
<path d="M100.4,411.5 L104.4,409.4 M100.6,412.2 L104.6,411.2" stroke="#d5d5d5" stroke-width="0.35"/>
<ellipse cx="68.7" cy="407.7" rx="8.9" ry="7.4" fill="#fff"/>
</g>
<g transform="translate(0,0)">
<polygon points="29.4,492.7 49.5,485.7 59.2,492.7 39.0,501.5" fill="#d9d9d9" fill-opacity="1" stroke="none" stroke-width="0" stroke-linejoin="round"/>
<polygon points="29.4,492.0 49.5,485.0 59.2,492.0 39.0,500.7" fill="#ececec" fill-opacity="1" stroke="#d4d4d4" stroke-width="0.4" stroke-linejoin="round"/>
<circle cx="38.0" cy="491.4" r="0.9" fill="#e2514d"/>
<circle cx="48.5" cy="488.0" r="0.9" fill="#e2514d"/>
<circle cx="52.6" cy="491.8" r="0.9" fill="#e2514d"/>
<circle cx="41.3" cy="496.7" r="0.9" fill="#e2514d"/>
<circle cx="36.3" cy="494.1" r="0.9" fill="#e2514d"/>
<circle cx="45.0" cy="489.5" r="0.9" fill="#e2514d"/>
<circle cx="48.5" cy="494.4" r="0.9" fill="#e2514d"/>
<circle cx="39.9" cy="494.3" r="0.6" fill="#5a9ad0"/>
<circle cx="50.4" cy="490.5" r="0.6" fill="#5a9ad0"/>
<polygon points="31.1,446.8 80.7,428.2 97.8,447.4 50.4,464.8" fill="#f0a2a4" fill-opacity="1" stroke="none" stroke-width="0" stroke-linejoin="round"/>
<polygon points="32.0,457.4 81.1,441.7 94.4,449.3 50.4,464.8 50.4,465.6" fill="#e77f82" fill-opacity="1" stroke="none" stroke-width="0" stroke-linejoin="round"/>
<polygon points="80.7,428.2 97.8,447.4 97.6,449.7 94.4,449.7 81.1,441.7" fill="#f5bfc0" fill-opacity="1" stroke="none" stroke-width="0" stroke-linejoin="round"/>
<polygon points="31.1,446.8 50.4,464.8 50.4,477.6 31.1,459.2" fill="#e58a8c" fill-opacity="1" stroke="none" stroke-width="0" stroke-linejoin="round"/>
<polygon points="50.4,464.8 97.8,447.4 117.0,467.9 69.7,484.6" fill="#afd3e5" fill-opacity="1" stroke="none" stroke-width="0" stroke-linejoin="round"/>
<polygon points="51.3,475.9 99.5,460.9 112.2,469.8 69.7,484.6 69.7,485.3" fill="#8fc2db" fill-opacity="1" stroke="none" stroke-width="0" stroke-linejoin="round"/>
<polygon points="97.8,447.4 117.0,467.9 116.8,470.2 112.2,470.2 99.5,460.9" fill="#cfe4ee" fill-opacity="1" stroke="none" stroke-width="0" stroke-linejoin="round"/>
<polygon points="50.4,464.8 69.7,484.6 69.7,497.7 50.4,477.6" fill="#9ecbe1" fill-opacity="1" stroke="none" stroke-width="0" stroke-linejoin="round"/>
<polygon points="50.4,464.8 58.0,472.4 58.0,474.7 50.4,467.1" fill="#a9b9d0" fill-opacity="0.6" stroke="none" stroke-width="0" stroke-linejoin="round"/>
<polygon points="69.7,484.6 117.0,467.9 136.6,489.5 86.0,504.7" fill="#f3b3b5" fill-opacity="1" stroke="none" stroke-width="0" stroke-linejoin="round"/>
<polygon points="69.7,484.6 117.0,467.9 118.7,474.7 72.2,491.8" fill="#f0a6a9" fill-opacity="1" stroke="none" stroke-width="0" stroke-linejoin="round"/>
<polygon points="117.0,467.9 136.6,489.5 130.4,491.4 114.9,475.9" fill="#f5c2c4" fill-opacity="1" stroke="none" stroke-width="0" stroke-linejoin="round"/>
<polygon points="86.0,504.7 136.6,489.5 136.6,502.0 86.3,517.5" fill="#f5c0c2" fill-opacity="1" stroke="none" stroke-width="0" stroke-linejoin="round"/>
<polygon points="69.7,484.6 86.0,504.7 86.3,517.5 69.7,497.7" fill="#f9ddd7" fill-opacity="1" stroke="none" stroke-width="0" stroke-linejoin="round"/>
<line x1="72.4" y1="486.4" x2="72.4" y2="489.6" stroke="#d2bf8a" stroke-width="0.7" stroke-opacity="0.75"/>
<line x1="74.2" y1="485.0" x2="74.2" y2="488.2" stroke="#d2bf8a" stroke-width="0.7" stroke-opacity="0.75"/>
<line x1="77.7" y1="484.4" x2="77.7" y2="487.6" stroke="#b9a368" stroke-width="0.7" stroke-opacity="0.75"/>
<line x1="81.3" y1="484.3" x2="81.3" y2="487.5" stroke="#b9a368" stroke-width="0.7" stroke-opacity="0.75"/>
<line x1="83.7" y1="483.0" x2="83.7" y2="486.2" stroke="#c7b27a" stroke-width="0.7" stroke-opacity="0.75"/>
<line x1="86.7" y1="480.6" x2="86.7" y2="483.8" stroke="#b9a368" stroke-width="0.7" stroke-opacity="0.75"/>
<line x1="88.8" y1="480.5" x2="88.8" y2="483.7" stroke="#d2bf8a" stroke-width="0.7" stroke-opacity="0.75"/>
<line x1="92.0" y1="479.5" x2="92.0" y2="482.7" stroke="#d2bf8a" stroke-width="0.7" stroke-opacity="0.75"/>
<line x1="95.5" y1="478.0" x2="95.5" y2="481.2" stroke="#b9a368" stroke-width="0.7" stroke-opacity="0.75"/>
<line x1="96.9" y1="476.6" x2="96.9" y2="479.8" stroke="#b9a368" stroke-width="0.7" stroke-opacity="0.75"/>
<line x1="101.0" y1="476.4" x2="101.0" y2="479.6" stroke="#c7b27a" stroke-width="0.7" stroke-opacity="0.75"/>
<line x1="103.7" y1="474.6" x2="103.7" y2="477.8" stroke="#b9a368" stroke-width="0.7" stroke-opacity="0.75"/>
<line x1="107.0" y1="473.4" x2="107.0" y2="476.6" stroke="#c7b27a" stroke-width="0.7" stroke-opacity="0.75"/>
<line x1="109.2" y1="472.7" x2="109.2" y2="475.9" stroke="#c7b27a" stroke-width="0.7" stroke-opacity="0.75"/>
<line x1="111.5" y1="473.4" x2="111.5" y2="476.6" stroke="#c7b27a" stroke-width="0.7" stroke-opacity="0.75"/>
<line x1="114.9" y1="469.9" x2="114.9" y2="473.1" stroke="#d2bf8a" stroke-width="0.7" stroke-opacity="0.75"/>
<line x1="71.4" y1="484.9" x2="71.4" y2="489.8" stroke="#e58d90" stroke-width="0.35" stroke-opacity="0.8"/>
<line x1="73.2" y1="484.2" x2="73.2" y2="489.1" stroke="#e58d90" stroke-width="0.35" stroke-opacity="0.8"/>
<line x1="74.9" y1="483.6" x2="74.9" y2="488.5" stroke="#e58d90" stroke-width="0.35" stroke-opacity="0.8"/>
<line x1="76.7" y1="482.9" x2="76.7" y2="487.8" stroke="#e58d90" stroke-width="0.35" stroke-opacity="0.8"/>
<line x1="78.5" y1="482.3" x2="78.5" y2="487.2" stroke="#e58d90" stroke-width="0.35" stroke-opacity="0.8"/>
<line x1="80.3" y1="481.7" x2="80.3" y2="486.6" stroke="#e58d90" stroke-width="0.35" stroke-opacity="0.8"/>
<line x1="82.1" y1="481.0" x2="82.1" y2="485.9" stroke="#e58d90" stroke-width="0.35" stroke-opacity="0.8"/>
<line x1="83.9" y1="480.4" x2="83.9" y2="485.3" stroke="#e58d90" stroke-width="0.35" stroke-opacity="0.8"/>
<line x1="85.7" y1="479.7" x2="85.7" y2="484.6" stroke="#e58d90" stroke-width="0.35" stroke-opacity="0.8"/>
<line x1="87.5" y1="479.1" x2="87.5" y2="484.0" stroke="#e58d90" stroke-width="0.35" stroke-opacity="0.8"/>
<line x1="89.2" y1="478.4" x2="89.2" y2="483.3" stroke="#e58d90" stroke-width="0.35" stroke-opacity="0.8"/>
<line x1="91.0" y1="477.8" x2="91.0" y2="482.7" stroke="#e58d90" stroke-width="0.35" stroke-opacity="0.8"/>
<line x1="92.8" y1="477.2" x2="92.8" y2="482.1" stroke="#e58d90" stroke-width="0.35" stroke-opacity="0.8"/>
<line x1="94.6" y1="476.5" x2="94.6" y2="481.4" stroke="#e58d90" stroke-width="0.35" stroke-opacity="0.8"/>
<line x1="96.4" y1="475.9" x2="96.4" y2="480.8" stroke="#e58d90" stroke-width="0.35" stroke-opacity="0.8"/>
<line x1="98.2" y1="475.2" x2="98.2" y2="480.1" stroke="#e58d90" stroke-width="0.35" stroke-opacity="0.8"/>
<line x1="100.0" y1="474.6" x2="100.0" y2="479.5" stroke="#e58d90" stroke-width="0.35" stroke-opacity="0.8"/>
<line x1="101.8" y1="473.9" x2="101.8" y2="478.8" stroke="#e58d90" stroke-width="0.35" stroke-opacity="0.8"/>
<line x1="103.6" y1="473.3" x2="103.6" y2="478.2" stroke="#e58d90" stroke-width="0.35" stroke-opacity="0.8"/>
<line x1="105.3" y1="472.7" x2="105.3" y2="477.6" stroke="#e58d90" stroke-width="0.35" stroke-opacity="0.8"/>
<line x1="107.1" y1="472.0" x2="107.1" y2="476.9" stroke="#e58d90" stroke-width="0.35" stroke-opacity="0.8"/>
<line x1="108.9" y1="471.4" x2="108.9" y2="476.3" stroke="#e58d90" stroke-width="0.35" stroke-opacity="0.8"/>
<line x1="110.7" y1="470.7" x2="110.7" y2="475.6" stroke="#e58d90" stroke-width="0.35" stroke-opacity="0.8"/>
<line x1="112.5" y1="470.1" x2="112.5" y2="475.0" stroke="#e58d90" stroke-width="0.35" stroke-opacity="0.8"/>
<line x1="114.3" y1="469.4" x2="114.3" y2="474.3" stroke="#e58d90" stroke-width="0.35" stroke-opacity="0.8"/>
<line x1="116.1" y1="468.8" x2="116.1" y2="473.7" stroke="#e58d90" stroke-width="0.35" stroke-opacity="0.8"/>
<ellipse cx="104.7" cy="484.0" rx="0.55" ry="1.3" fill="#d3c08e" fill-opacity="0.75"/>
<ellipse cx="110.2" cy="489.5" rx="0.55" ry="1.3" fill="#d3c08e" fill-opacity="0.75"/>
<ellipse cx="91.8" cy="492.4" rx="0.55" ry="1.3" fill="#d3c08e" fill-opacity="0.75"/>
<ellipse cx="105.4" cy="491.0" rx="0.55" ry="1.3" fill="#d3c08e" fill-opacity="0.75"/>
<ellipse cx="114.5" cy="490.9" rx="0.55" ry="1.3" fill="#d3c08e" fill-opacity="0.75"/>
<ellipse cx="107.8" cy="492.4" rx="0.55" ry="1.3" fill="#d3c08e" fill-opacity="0.75"/>
<ellipse cx="111.4" cy="490.4" rx="0.55" ry="1.3" fill="#d3c08e" fill-opacity="0.75"/>
<ellipse cx="88.8" cy="494.1" rx="0.55" ry="1.3" fill="#d3c08e" fill-opacity="0.75"/>
<ellipse cx="105.5" cy="493.0" rx="0.55" ry="1.3" fill="#d3c08e" fill-opacity="0.75"/>
<ellipse cx="119.6" cy="485.0" rx="0.55" ry="1.3" fill="#d3c08e" fill-opacity="0.75"/>
<ellipse cx="119.0" cy="483.6" rx="0.55" ry="1.3" fill="#d3c08e" fill-opacity="0.75"/>
<ellipse cx="102.4" cy="492.0" rx="0.55" ry="1.3" fill="#d3c08e" fill-opacity="0.75"/>
<ellipse cx="108.0" cy="494.0" rx="0.55" ry="1.3" fill="#d3c08e" fill-opacity="0.75"/>
<ellipse cx="90.7" cy="493.1" rx="0.55" ry="1.3" fill="#d3c08e" fill-opacity="0.75"/>
<line x1="83.4" y1="492.7" x2="83.4" y2="495.1" stroke="#cdb77f" stroke-width="0.5" stroke-opacity="0.6"/>
<line x1="80.2" y1="491.6" x2="80.2" y2="494.0" stroke="#e9a9a6" stroke-width="0.5" stroke-opacity="0.6"/>
<line x1="84.6" y1="497.9" x2="84.6" y2="500.3" stroke="#d9c08f" stroke-width="0.5" stroke-opacity="0.6"/>
<line x1="97.9" y1="483.3" x2="97.9" y2="485.7" stroke="#d9c08f" stroke-width="0.5" stroke-opacity="0.6"/>
<line x1="104.8" y1="493.9" x2="104.8" y2="496.3" stroke="#cdb77f" stroke-width="0.5" stroke-opacity="0.6"/>
<line x1="123.8" y1="475.5" x2="123.8" y2="477.9" stroke="#d9c08f" stroke-width="0.5" stroke-opacity="0.6"/>
<line x1="127.9" y1="485.5" x2="127.9" y2="487.9" stroke="#d9c08f" stroke-width="0.5" stroke-opacity="0.6"/>
<line x1="101.5" y1="494.3" x2="101.5" y2="496.7" stroke="#cdb77f" stroke-width="0.5" stroke-opacity="0.6"/>
<line x1="116.2" y1="488.8" x2="116.2" y2="491.2" stroke="#d9c08f" stroke-width="0.5" stroke-opacity="0.6"/>
<line x1="91.8" y1="492.1" x2="91.8" y2="494.5" stroke="#cdb77f" stroke-width="0.5" stroke-opacity="0.6"/>
<line x1="127.6" y1="483.0" x2="127.6" y2="485.4" stroke="#d9c08f" stroke-width="0.5" stroke-opacity="0.6"/>
<line x1="117.3" y1="480.4" x2="117.3" y2="482.8" stroke="#e9a9a6" stroke-width="0.5" stroke-opacity="0.6"/>
<line x1="109.7" y1="490.8" x2="109.7" y2="493.2" stroke="#d9c08f" stroke-width="0.5" stroke-opacity="0.6"/>
<line x1="86.6" y1="500.7" x2="86.6" y2="503.1" stroke="#d9c08f" stroke-width="0.5" stroke-opacity="0.6"/>
<line x1="89.0" y1="487.7" x2="89.0" y2="490.1" stroke="#e9a9a6" stroke-width="0.5" stroke-opacity="0.6"/>
<line x1="86.8" y1="502.0" x2="86.8" y2="504.4" stroke="#e9a9a6" stroke-width="0.5" stroke-opacity="0.6"/>
<line x1="80.4" y1="487.8" x2="80.4" y2="490.2" stroke="#d9c08f" stroke-width="0.5" stroke-opacity="0.6"/>
<line x1="81.2" y1="491.6" x2="81.2" y2="494.0" stroke="#d9c08f" stroke-width="0.5" stroke-opacity="0.6"/>
<line x1="87.9" y1="514.9" x2="87.9" y2="516.8" stroke="#e9979a" stroke-width="0.35"/>
<line x1="90.2" y1="514.2" x2="90.2" y2="516.1" stroke="#e9979a" stroke-width="0.35"/>
<line x1="92.4" y1="513.5" x2="92.4" y2="515.4" stroke="#e9979a" stroke-width="0.35"/>
<line x1="94.6" y1="512.8" x2="94.6" y2="514.7" stroke="#e9979a" stroke-width="0.35"/>
<line x1="96.9" y1="512.1" x2="96.9" y2="514.0" stroke="#e9979a" stroke-width="0.35"/>
<line x1="99.1" y1="511.4" x2="99.1" y2="513.3" stroke="#e9979a" stroke-width="0.35"/>
<line x1="101.4" y1="510.7" x2="101.4" y2="512.6" stroke="#e9979a" stroke-width="0.35"/>
<line x1="103.6" y1="510.0" x2="103.6" y2="511.9" stroke="#e9979a" stroke-width="0.35"/>
<line x1="105.9" y1="509.3" x2="105.9" y2="511.2" stroke="#e9979a" stroke-width="0.35"/>
<line x1="108.1" y1="508.6" x2="108.1" y2="510.5" stroke="#e9979a" stroke-width="0.35"/>
<line x1="110.3" y1="507.9" x2="110.3" y2="509.8" stroke="#e9979a" stroke-width="0.35"/>
<line x1="112.6" y1="507.2" x2="112.6" y2="509.1" stroke="#e9979a" stroke-width="0.35"/>
<line x1="114.8" y1="506.5" x2="114.8" y2="508.4" stroke="#e9979a" stroke-width="0.35"/>
<line x1="117.1" y1="505.8" x2="117.1" y2="507.7" stroke="#e9979a" stroke-width="0.35"/>
<line x1="119.3" y1="505.1" x2="119.3" y2="507.0" stroke="#e9979a" stroke-width="0.35"/>
<line x1="121.6" y1="504.4" x2="121.6" y2="506.3" stroke="#e9979a" stroke-width="0.35"/>
<line x1="123.8" y1="503.7" x2="123.8" y2="505.6" stroke="#e9979a" stroke-width="0.35"/>
<line x1="126.0" y1="503.0" x2="126.0" y2="504.9" stroke="#e9979a" stroke-width="0.35"/>
<line x1="128.3" y1="502.3" x2="128.3" y2="504.2" stroke="#e9979a" stroke-width="0.35"/>
<line x1="130.5" y1="501.6" x2="130.5" y2="503.5" stroke="#e9979a" stroke-width="0.35"/>
<line x1="132.8" y1="500.9" x2="132.8" y2="502.8" stroke="#e9979a" stroke-width="0.35"/>
<line x1="135.0" y1="500.2" x2="135.0" y2="502.1" stroke="#e9979a" stroke-width="0.35"/>
<line x1="114.1" y1="500.2" x2="114.1" y2="503.2" stroke="#cdb77f" stroke-width="0.6" stroke-opacity="0.7"/>
<line x1="120.3" y1="498.9" x2="120.3" y2="501.9" stroke="#cdb77f" stroke-width="0.6" stroke-opacity="0.7"/>
<line x1="95.0" y1="510.6" x2="95.0" y2="513.6" stroke="#cdb77f" stroke-width="0.6" stroke-opacity="0.7"/>
<line x1="113.3" y1="503.3" x2="113.3" y2="506.3" stroke="#cdb77f" stroke-width="0.6" stroke-opacity="0.7"/>
<line x1="125.9" y1="501.0" x2="125.9" y2="504.0" stroke="#cdb77f" stroke-width="0.6" stroke-opacity="0.7"/>
<line x1="89.0" y1="508.8" x2="89.0" y2="511.8" stroke="#cdb77f" stroke-width="0.6" stroke-opacity="0.7"/>
<line x1="95.3" y1="507.8" x2="95.3" y2="510.8" stroke="#cdb77f" stroke-width="0.6" stroke-opacity="0.7"/>
<line x1="122.7" y1="485.8" x2="125.5" y2="485.8" transform="rotate(25 124.1 485.8)" stroke="#4f5f9a" stroke-width="1.15" stroke-linecap="round" stroke-opacity="0.85"/>
<line x1="109.0" y1="487.9" x2="111.8" y2="487.9" transform="rotate(104 110.4 487.9)" stroke="#7fb0c4" stroke-width="1.15" stroke-linecap="round" stroke-opacity="0.85"/>
<line x1="126.0" y1="482.8" x2="128.8" y2="482.8" transform="rotate(83 127.4 482.8)" stroke="#4f5f9a" stroke-width="1.15" stroke-linecap="round" stroke-opacity="0.85"/>
<line x1="120.6" y1="483.3" x2="123.4" y2="483.3" transform="rotate(31 122.0 483.3)" stroke="#6a7ab0" stroke-width="1.15" stroke-linecap="round" stroke-opacity="0.85"/>
<line x1="100.9" y1="485.0" x2="103.7" y2="485.0" transform="rotate(38 102.3 485.0)" stroke="#8ab8c8" stroke-width="1.15" stroke-linecap="round" stroke-opacity="0.85"/>
<line x1="76.5" y1="491.2" x2="79.3" y2="491.2" transform="rotate(71 77.9 491.2)" stroke="#7fb0c4" stroke-width="1.15" stroke-linecap="round" stroke-opacity="0.85"/>
<line x1="93.4" y1="490.4" x2="96.2" y2="490.4" transform="rotate(151 94.8 490.4)" stroke="#6a7ab0" stroke-width="1.15" stroke-linecap="round" stroke-opacity="0.85"/>
<line x1="79.3" y1="497.3" x2="82.1" y2="497.3" transform="rotate(67 80.7 497.3)" stroke="#5a5a9c" stroke-width="1.15" stroke-linecap="round" stroke-opacity="0.85"/>
<line x1="94.0" y1="497.3" x2="96.8" y2="497.3" transform="rotate(105 95.4 497.3)" stroke="#5a84b0" stroke-width="1.15" stroke-linecap="round" stroke-opacity="0.85"/>
<line x1="86.9" y1="496.2" x2="89.7" y2="496.2" transform="rotate(58 88.3 496.2)" stroke="#6a7ab0" stroke-width="1.15" stroke-linecap="round" stroke-opacity="0.85"/>
<line x1="86.6" y1="501.9" x2="89.4" y2="501.9" transform="rotate(70 88.0 501.9)" stroke="#8ab8c8" stroke-width="1.15" stroke-linecap="round" stroke-opacity="0.85"/>
<line x1="108.2" y1="493.7" x2="111.0" y2="493.7" transform="rotate(159 109.6 493.7)" stroke="#5a5a9c" stroke-width="1.15" stroke-linecap="round" stroke-opacity="0.85"/>
<line x1="125.8" y1="486.5" x2="128.6" y2="486.5" transform="rotate(33 127.2 486.5)" stroke="#4f5f9a" stroke-width="1.15" stroke-linecap="round" stroke-opacity="0.85"/>
<line x1="116.2" y1="485.2" x2="119.0" y2="485.2" transform="rotate(109 117.6 485.2)" stroke="#6a7ab0" stroke-width="1.15" stroke-linecap="round" stroke-opacity="0.85"/>
<line x1="118.8" y1="487.1" x2="121.6" y2="487.1" transform="rotate(53 120.2 487.1)" stroke="#4f5f9a" stroke-width="1.15" stroke-linecap="round" stroke-opacity="0.85"/>
<line x1="108.1" y1="482.3" x2="110.9" y2="482.3" transform="rotate(127 109.5 482.3)" stroke="#5a84b0" stroke-width="1.15" stroke-linecap="round" stroke-opacity="0.85"/>
<line x1="99.2" y1="495.1" x2="102.0" y2="495.1" transform="rotate(54 100.6 495.1)" stroke="#8ab8c8" stroke-width="1.15" stroke-linecap="round" stroke-opacity="0.85"/>
<line x1="110.0" y1="482.2" x2="112.8" y2="482.2" transform="rotate(119 111.4 482.2)" stroke="#5a84b0" stroke-width="1.15" stroke-linecap="round" stroke-opacity="0.85"/>
<line x1="98.8" y1="497.5" x2="101.6" y2="497.5" transform="rotate(87 100.2 497.5)" stroke="#6a7ab0" stroke-width="1.15" stroke-linecap="round" stroke-opacity="0.85"/>
<line x1="123.8" y1="485.6" x2="126.6" y2="485.6" transform="rotate(160 125.2 485.6)" stroke="#4f5f9a" stroke-width="1.15" stroke-linecap="round" stroke-opacity="0.85"/>
<line x1="79.0" y1="487.4" x2="81.8" y2="487.4" transform="rotate(142 80.4 487.4)" stroke="#7fb0c4" stroke-width="1.15" stroke-linecap="round" stroke-opacity="0.85"/>
<line x1="96.1" y1="488.2" x2="98.9" y2="488.2" transform="rotate(128 97.5 488.2)" stroke="#4f5f9a" stroke-width="1.15" stroke-linecap="round" stroke-opacity="0.85"/>
<line x1="101.8" y1="481.8" x2="104.6" y2="481.8" transform="rotate(121 103.2 481.8)" stroke="#6a7ab0" stroke-width="1.15" stroke-linecap="round" stroke-opacity="0.85"/>
<line x1="113.0" y1="484.9" x2="115.8" y2="484.9" transform="rotate(151 114.4 484.9)" stroke="#6a7ab0" stroke-width="1.15" stroke-linecap="round" stroke-opacity="0.85"/>
<line x1="78.1" y1="490.9" x2="80.9" y2="490.9" transform="rotate(149 79.5 490.9)" stroke="#8ab8c8" stroke-width="1.15" stroke-linecap="round" stroke-opacity="0.85"/>
<line x1="87.4" y1="494.4" x2="90.2" y2="494.4" transform="rotate(158 88.8 494.4)" stroke="#6a7ab0" stroke-width="1.15" stroke-linecap="round" stroke-opacity="0.85"/>
<line x1="126.1" y1="482.7" x2="128.9" y2="482.7" transform="rotate(121 127.5 482.7)" stroke="#5a5a9c" stroke-width="1.15" stroke-linecap="round" stroke-opacity="0.85"/>
<line x1="115.7" y1="479.9" x2="118.5" y2="479.9" transform="rotate(45 117.1 479.9)" stroke="#6a7ab0" stroke-width="1.15" stroke-linecap="round" stroke-opacity="0.85"/>
<line x1="106.8" y1="490.7" x2="109.6" y2="490.7" transform="rotate(108 108.2 490.7)" stroke="#4f5f9a" stroke-width="1.15" stroke-linecap="round" stroke-opacity="0.85"/>
<line x1="108.2" y1="480.8" x2="111.0" y2="480.8" transform="rotate(76 109.6 480.8)" stroke="#4f5f9a" stroke-width="1.15" stroke-linecap="round" stroke-opacity="0.85"/>
<line x1="75.6" y1="498.4" x2="78.2" y2="500.4" stroke="#3f6fa5" stroke-width="0.9" stroke-linecap="round"/>
<line x1="79.8" y1="507.5" x2="82.4" y2="509.5" stroke="#3f6fa5" stroke-width="0.9" stroke-linecap="round"/>
<line x1="76.6" y1="502.7" x2="79.2" y2="504.7" stroke="#6fb8c8" stroke-width="0.9" stroke-linecap="round"/>
<line x1="81.3" y1="511.7" x2="83.9" y2="513.7" stroke="#6fb8c8" stroke-width="0.9" stroke-linecap="round"/>
<line x1="73.7" y1="494.6" x2="76.3" y2="496.6" stroke="#3f6fa5" stroke-width="0.9" stroke-linecap="round"/>
<line x1="127.9" y1="495.6" x2="130.5" y2="495.6" transform="rotate(90 129.2 495.6)" stroke="#6a6aa8" stroke-width="0.8" stroke-linecap="round" stroke-opacity="0.8"/>
<line x1="93.3" y1="507.4" x2="95.9" y2="507.4" transform="rotate(10 94.6 507.4)" stroke="#6a6aa8" stroke-width="0.8" stroke-linecap="round" stroke-opacity="0.8"/>
<line x1="94.5" y1="505.9" x2="97.1" y2="505.9" transform="rotate(13 95.8 505.9)" stroke="#6a6aa8" stroke-width="0.8" stroke-linecap="round" stroke-opacity="0.8"/>
<line x1="124.5" y1="498.4" x2="127.1" y2="498.4" transform="rotate(129 125.8 498.4)" stroke="#6a6aa8" stroke-width="0.8" stroke-linecap="round" stroke-opacity="0.8"/>
<line x1="89.1" y1="509.0" x2="91.7" y2="509.0" transform="rotate(116 90.4 509.0)" stroke="#6a6aa8" stroke-width="0.8" stroke-linecap="round" stroke-opacity="0.8"/>
<polyline points="31.1,446.8 50.4,464.8 69.7,484.6 86.0,504.7 136.6,489.5" fill="none" stroke="#fff" stroke-width="2.1" stroke-linejoin="round" stroke-linecap="round"/>
<polyline points="50.4,464.8 97.8,447.4" fill="none" stroke="#fff" stroke-width="2.1" stroke-linejoin="round" stroke-linecap="round"/>
<polyline points="69.7,484.6 117.0,467.9" fill="none" stroke="#fff" stroke-width="2.1" stroke-linejoin="round" stroke-linecap="round"/>
<polyline points="32.0,457.4 81.1,441.7" fill="none" stroke="#fff" stroke-width="0.5" stroke-linejoin="round" stroke-linecap="round"/>
<polyline points="51.3,475.9 99.5,460.9" fill="none" stroke="#fff" stroke-width="0.5" stroke-linejoin="round" stroke-linecap="round"/>
<line x1="31.1" y1="459.3" x2="42.4" y2="490.7" stroke="#111" stroke-width="1.8"/>
<line x1="46.9" y1="492.9" x2="86.3" y2="517.5" stroke="#111" stroke-width="1.8" stroke-linecap="round"/>
<rect x="42.0" y="491.4" width="5.2" height="2.9" fill="#dfe6f0" stroke="#111" stroke-width="1.2" transform="rotate(-10 42.0 491.4)"/>
<line x1="31.4" y1="480.4" x2="38.0" y2="490.7" stroke="#aaa" stroke-width="0.5"/>
<line x1="25.7" y1="474.0" x2="31.4" y2="480.4" stroke="#3f6fb0" stroke-width="2.4" stroke-linecap="round"/>
<path d="M24.2,474.7 l3.2,-3 l1,1.2 l-3,2.6z" fill="#4a7ec0"/>
</g>
<g transform="translate(129.5,0)">
<polygon points="29.4,492.7 49.5,485.7 59.2,492.7 39.0,501.5" fill="#d9d9d9" fill-opacity="1" stroke="none" stroke-width="0" stroke-linejoin="round"/>
<polygon points="29.4,492.0 49.5,485.0 59.2,492.0 39.0,500.7" fill="#ececec" fill-opacity="1" stroke="#d4d4d4" stroke-width="0.4" stroke-linejoin="round"/>
<circle cx="38.0" cy="491.4" r="0.9" fill="#e2514d"/>
<circle cx="48.5" cy="488.0" r="0.9" fill="#e2514d"/>
<circle cx="52.6" cy="491.8" r="0.9" fill="#e2514d"/>
<circle cx="41.3" cy="496.7" r="0.9" fill="#e2514d"/>
<circle cx="36.3" cy="494.1" r="0.9" fill="#e2514d"/>
<circle cx="45.0" cy="489.5" r="0.9" fill="#e2514d"/>
<circle cx="48.5" cy="494.4" r="0.9" fill="#e2514d"/>
<circle cx="39.9" cy="494.3" r="0.6" fill="#5a9ad0"/>
<circle cx="50.4" cy="490.5" r="0.6" fill="#5a9ad0"/>
<polygon points="31.1,446.8 80.7,428.2 97.8,447.4 50.4,464.8" fill="#f0a2a4" fill-opacity="1" stroke="none" stroke-width="0" stroke-linejoin="round"/>
<polygon points="32.0,457.4 81.1,441.7 94.4,449.3 50.4,464.8 50.4,465.6" fill="#e77f82" fill-opacity="1" stroke="none" stroke-width="0" stroke-linejoin="round"/>
<polygon points="80.7,428.2 97.8,447.4 97.6,449.7 94.4,449.7 81.1,441.7" fill="#f5bfc0" fill-opacity="1" stroke="none" stroke-width="0" stroke-linejoin="round"/>
<polygon points="31.1,446.8 50.4,464.8 50.4,477.6 31.1,459.2" fill="#e58a8c" fill-opacity="1" stroke="none" stroke-width="0" stroke-linejoin="round"/>
<polygon points="50.4,464.8 97.8,447.4 117.0,467.9 69.7,484.6" fill="#afd3e5" fill-opacity="1" stroke="none" stroke-width="0" stroke-linejoin="round"/>
<polygon points="51.3,475.9 99.5,460.9 112.2,469.8 69.7,484.6 69.7,485.3" fill="#8fc2db" fill-opacity="1" stroke="none" stroke-width="0" stroke-linejoin="round"/>
<polygon points="97.8,447.4 117.0,467.9 116.8,470.2 112.2,470.2 99.5,460.9" fill="#cfe4ee" fill-opacity="1" stroke="none" stroke-width="0" stroke-linejoin="round"/>
<polygon points="50.4,464.8 69.7,484.6 69.7,497.7 50.4,477.6" fill="#9ecbe1" fill-opacity="1" stroke="none" stroke-width="0" stroke-linejoin="round"/>
<polygon points="50.4,464.8 58.0,472.4 58.0,474.7 50.4,467.1" fill="#a9b9d0" fill-opacity="0.6" stroke="none" stroke-width="0" stroke-linejoin="round"/>
<polygon points="69.7,484.6 117.0,467.9 136.6,489.5 86.0,504.7" fill="#f3b3b5" fill-opacity="1" stroke="none" stroke-width="0" stroke-linejoin="round"/>
<polygon points="69.7,484.6 117.0,467.9 118.7,474.7 72.2,491.8" fill="#f0a6a9" fill-opacity="1" stroke="none" stroke-width="0" stroke-linejoin="round"/>
<polygon points="117.0,467.9 136.6,489.5 130.4,491.4 114.9,475.9" fill="#f5c2c4" fill-opacity="1" stroke="none" stroke-width="0" stroke-linejoin="round"/>
<polygon points="86.0,504.7 136.6,489.5 136.6,502.0 86.3,517.5" fill="#f5c0c2" fill-opacity="1" stroke="none" stroke-width="0" stroke-linejoin="round"/>
<polygon points="69.7,484.6 86.0,504.7 86.3,517.5 69.7,497.7" fill="#f9ddd7" fill-opacity="1" stroke="none" stroke-width="0" stroke-linejoin="round"/>
<line x1="71.3" y1="486.1" x2="71.3" y2="489.3" stroke="#c7b27a" stroke-width="0.7" stroke-opacity="0.75"/>
<line x1="74.4" y1="485.0" x2="74.4" y2="488.2" stroke="#b9a368" stroke-width="0.7" stroke-opacity="0.75"/>
<line x1="77.0" y1="484.5" x2="77.0" y2="487.7" stroke="#b9a368" stroke-width="0.7" stroke-opacity="0.75"/>
<line x1="80.9" y1="482.7" x2="80.9" y2="485.9" stroke="#c7b27a" stroke-width="0.7" stroke-opacity="0.75"/>
<line x1="84.1" y1="482.8" x2="84.1" y2="486.0" stroke="#c7b27a" stroke-width="0.7" stroke-opacity="0.75"/>
<line x1="86.5" y1="480.7" x2="86.5" y2="483.9" stroke="#d2bf8a" stroke-width="0.7" stroke-opacity="0.75"/>
<line x1="90.0" y1="479.6" x2="90.0" y2="482.8" stroke="#d2bf8a" stroke-width="0.7" stroke-opacity="0.75"/>
<line x1="92.6" y1="477.7" x2="92.6" y2="480.9" stroke="#d2bf8a" stroke-width="0.7" stroke-opacity="0.75"/>
<line x1="95.0" y1="479.4" x2="95.0" y2="482.6" stroke="#c7b27a" stroke-width="0.7" stroke-opacity="0.75"/>
<line x1="97.6" y1="477.7" x2="97.6" y2="480.9" stroke="#d2bf8a" stroke-width="0.7" stroke-opacity="0.75"/>
<line x1="100.0" y1="475.0" x2="100.0" y2="478.2" stroke="#c7b27a" stroke-width="0.7" stroke-opacity="0.75"/>
<line x1="102.8" y1="476.0" x2="102.8" y2="479.2" stroke="#c7b27a" stroke-width="0.7" stroke-opacity="0.75"/>
<line x1="106.0" y1="473.8" x2="106.0" y2="477.0" stroke="#d2bf8a" stroke-width="0.7" stroke-opacity="0.75"/>
<line x1="109.2" y1="473.2" x2="109.2" y2="476.4" stroke="#b9a368" stroke-width="0.7" stroke-opacity="0.75"/>
<line x1="111.3" y1="473.5" x2="111.3" y2="476.7" stroke="#b9a368" stroke-width="0.7" stroke-opacity="0.75"/>
<line x1="114.5" y1="471.7" x2="114.5" y2="474.9" stroke="#d2bf8a" stroke-width="0.7" stroke-opacity="0.75"/>
<line x1="71.4" y1="484.9" x2="71.4" y2="489.8" stroke="#e58d90" stroke-width="0.35" stroke-opacity="0.8"/>
<line x1="73.2" y1="484.2" x2="73.2" y2="489.1" stroke="#e58d90" stroke-width="0.35" stroke-opacity="0.8"/>
<line x1="74.9" y1="483.6" x2="74.9" y2="488.5" stroke="#e58d90" stroke-width="0.35" stroke-opacity="0.8"/>
<line x1="76.7" y1="482.9" x2="76.7" y2="487.8" stroke="#e58d90" stroke-width="0.35" stroke-opacity="0.8"/>
<line x1="78.5" y1="482.3" x2="78.5" y2="487.2" stroke="#e58d90" stroke-width="0.35" stroke-opacity="0.8"/>
<line x1="80.3" y1="481.7" x2="80.3" y2="486.6" stroke="#e58d90" stroke-width="0.35" stroke-opacity="0.8"/>
<line x1="82.1" y1="481.0" x2="82.1" y2="485.9" stroke="#e58d90" stroke-width="0.35" stroke-opacity="0.8"/>
<line x1="83.9" y1="480.4" x2="83.9" y2="485.3" stroke="#e58d90" stroke-width="0.35" stroke-opacity="0.8"/>
<line x1="85.7" y1="479.7" x2="85.7" y2="484.6" stroke="#e58d90" stroke-width="0.35" stroke-opacity="0.8"/>
<line x1="87.5" y1="479.1" x2="87.5" y2="484.0" stroke="#e58d90" stroke-width="0.35" stroke-opacity="0.8"/>
<line x1="89.2" y1="478.4" x2="89.2" y2="483.3" stroke="#e58d90" stroke-width="0.35" stroke-opacity="0.8"/>
<line x1="91.0" y1="477.8" x2="91.0" y2="482.7" stroke="#e58d90" stroke-width="0.35" stroke-opacity="0.8"/>
<line x1="92.8" y1="477.2" x2="92.8" y2="482.1" stroke="#e58d90" stroke-width="0.35" stroke-opacity="0.8"/>
<line x1="94.6" y1="476.5" x2="94.6" y2="481.4" stroke="#e58d90" stroke-width="0.35" stroke-opacity="0.8"/>
<line x1="96.4" y1="475.9" x2="96.4" y2="480.8" stroke="#e58d90" stroke-width="0.35" stroke-opacity="0.8"/>
<line x1="98.2" y1="475.2" x2="98.2" y2="480.1" stroke="#e58d90" stroke-width="0.35" stroke-opacity="0.8"/>
<line x1="100.0" y1="474.6" x2="100.0" y2="479.5" stroke="#e58d90" stroke-width="0.35" stroke-opacity="0.8"/>
<line x1="101.8" y1="473.9" x2="101.8" y2="478.8" stroke="#e58d90" stroke-width="0.35" stroke-opacity="0.8"/>
<line x1="103.6" y1="473.3" x2="103.6" y2="478.2" stroke="#e58d90" stroke-width="0.35" stroke-opacity="0.8"/>
<line x1="105.3" y1="472.7" x2="105.3" y2="477.6" stroke="#e58d90" stroke-width="0.35" stroke-opacity="0.8"/>
<line x1="107.1" y1="472.0" x2="107.1" y2="476.9" stroke="#e58d90" stroke-width="0.35" stroke-opacity="0.8"/>
<line x1="108.9" y1="471.4" x2="108.9" y2="476.3" stroke="#e58d90" stroke-width="0.35" stroke-opacity="0.8"/>
<line x1="110.7" y1="470.7" x2="110.7" y2="475.6" stroke="#e58d90" stroke-width="0.35" stroke-opacity="0.8"/>
<line x1="112.5" y1="470.1" x2="112.5" y2="475.0" stroke="#e58d90" stroke-width="0.35" stroke-opacity="0.8"/>
<line x1="114.3" y1="469.4" x2="114.3" y2="474.3" stroke="#e58d90" stroke-width="0.35" stroke-opacity="0.8"/>
<line x1="116.1" y1="468.8" x2="116.1" y2="473.7" stroke="#e58d90" stroke-width="0.35" stroke-opacity="0.8"/>
<ellipse cx="113.3" cy="485.1" rx="0.55" ry="1.3" fill="#d3c08e" fill-opacity="0.75"/>
<ellipse cx="86.4" cy="497.0" rx="0.55" ry="1.3" fill="#d3c08e" fill-opacity="0.75"/>
<ellipse cx="108.1" cy="488.0" rx="0.55" ry="1.3" fill="#d3c08e" fill-opacity="0.75"/>
<ellipse cx="110.2" cy="487.4" rx="0.55" ry="1.3" fill="#d3c08e" fill-opacity="0.75"/>
<ellipse cx="97.4" cy="491.5" rx="0.55" ry="1.3" fill="#d3c08e" fill-opacity="0.75"/>
<ellipse cx="91.6" cy="489.6" rx="0.55" ry="1.3" fill="#d3c08e" fill-opacity="0.75"/>
<ellipse cx="100.6" cy="484.2" rx="0.55" ry="1.3" fill="#d3c08e" fill-opacity="0.75"/>
<ellipse cx="117.8" cy="490.7" rx="0.55" ry="1.3" fill="#d3c08e" fill-opacity="0.75"/>
<ellipse cx="90.6" cy="495.3" rx="0.55" ry="1.3" fill="#d3c08e" fill-opacity="0.75"/>
<ellipse cx="102.9" cy="496.0" rx="0.55" ry="1.3" fill="#d3c08e" fill-opacity="0.75"/>
<ellipse cx="119.2" cy="485.1" rx="0.55" ry="1.3" fill="#d3c08e" fill-opacity="0.75"/>
<ellipse cx="88.8" cy="494.7" rx="0.55" ry="1.3" fill="#d3c08e" fill-opacity="0.75"/>
<ellipse cx="93.9" cy="496.3" rx="0.55" ry="1.3" fill="#d3c08e" fill-opacity="0.75"/>
<ellipse cx="94.3" cy="493.7" rx="0.55" ry="1.3" fill="#d3c08e" fill-opacity="0.75"/>
<line x1="119.7" y1="488.9" x2="119.7" y2="491.3" stroke="#cdb77f" stroke-width="0.5" stroke-opacity="0.6"/>
<line x1="123.9" y1="485.3" x2="123.9" y2="487.7" stroke="#cdb77f" stroke-width="0.5" stroke-opacity="0.6"/>
<line x1="84.8" y1="499.1" x2="84.8" y2="501.5" stroke="#d9c08f" stroke-width="0.5" stroke-opacity="0.6"/>
<line x1="105.2" y1="493.3" x2="105.2" y2="495.7" stroke="#d9c08f" stroke-width="0.5" stroke-opacity="0.6"/>
<line x1="108.7" y1="483.3" x2="108.7" y2="485.7" stroke="#e9a9a6" stroke-width="0.5" stroke-opacity="0.6"/>
<line x1="100.2" y1="486.0" x2="100.2" y2="488.4" stroke="#d9c08f" stroke-width="0.5" stroke-opacity="0.6"/>
<line x1="88.1" y1="497.2" x2="88.1" y2="499.6" stroke="#d9c08f" stroke-width="0.5" stroke-opacity="0.6"/>
<line x1="123.1" y1="487.9" x2="123.1" y2="490.3" stroke="#cdb77f" stroke-width="0.5" stroke-opacity="0.6"/>
<line x1="116.3" y1="475.8" x2="116.3" y2="478.2" stroke="#cdb77f" stroke-width="0.5" stroke-opacity="0.6"/>
<line x1="102.7" y1="495.0" x2="102.7" y2="497.4" stroke="#e9a9a6" stroke-width="0.5" stroke-opacity="0.6"/>
<line x1="126.4" y1="481.8" x2="126.4" y2="484.2" stroke="#d9c08f" stroke-width="0.5" stroke-opacity="0.6"/>
<line x1="76.5" y1="489.2" x2="76.5" y2="491.6" stroke="#cdb77f" stroke-width="0.5" stroke-opacity="0.6"/>
<line x1="97.9" y1="485.2" x2="97.9" y2="487.6" stroke="#d9c08f" stroke-width="0.5" stroke-opacity="0.6"/>
<line x1="95.0" y1="489.5" x2="95.0" y2="491.9" stroke="#e9a9a6" stroke-width="0.5" stroke-opacity="0.6"/>
<line x1="100.0" y1="497.4" x2="100.0" y2="499.8" stroke="#d9c08f" stroke-width="0.5" stroke-opacity="0.6"/>
<line x1="130.0" y1="483.4" x2="130.0" y2="485.8" stroke="#e9a9a6" stroke-width="0.5" stroke-opacity="0.6"/>
<line x1="125.3" y1="486.4" x2="125.3" y2="488.8" stroke="#e9a9a6" stroke-width="0.5" stroke-opacity="0.6"/>
<line x1="121.4" y1="475.3" x2="121.4" y2="477.7" stroke="#e9a9a6" stroke-width="0.5" stroke-opacity="0.6"/>
<line x1="87.9" y1="514.9" x2="87.9" y2="516.8" stroke="#e9979a" stroke-width="0.35"/>
<line x1="90.2" y1="514.2" x2="90.2" y2="516.1" stroke="#e9979a" stroke-width="0.35"/>
<line x1="92.4" y1="513.5" x2="92.4" y2="515.4" stroke="#e9979a" stroke-width="0.35"/>
<line x1="94.6" y1="512.8" x2="94.6" y2="514.7" stroke="#e9979a" stroke-width="0.35"/>
<line x1="96.9" y1="512.1" x2="96.9" y2="514.0" stroke="#e9979a" stroke-width="0.35"/>
<line x1="99.1" y1="511.4" x2="99.1" y2="513.3" stroke="#e9979a" stroke-width="0.35"/>
<line x1="101.4" y1="510.7" x2="101.4" y2="512.6" stroke="#e9979a" stroke-width="0.35"/>
<line x1="103.6" y1="510.0" x2="103.6" y2="511.9" stroke="#e9979a" stroke-width="0.35"/>
<line x1="105.9" y1="509.3" x2="105.9" y2="511.2" stroke="#e9979a" stroke-width="0.35"/>
<line x1="108.1" y1="508.6" x2="108.1" y2="510.5" stroke="#e9979a" stroke-width="0.35"/>
<line x1="110.3" y1="507.9" x2="110.3" y2="509.8" stroke="#e9979a" stroke-width="0.35"/>
<line x1="112.6" y1="507.2" x2="112.6" y2="509.1" stroke="#e9979a" stroke-width="0.35"/>
<line x1="114.8" y1="506.5" x2="114.8" y2="508.4" stroke="#e9979a" stroke-width="0.35"/>
<line x1="117.1" y1="505.8" x2="117.1" y2="507.7" stroke="#e9979a" stroke-width="0.35"/>
<line x1="119.3" y1="505.1" x2="119.3" y2="507.0" stroke="#e9979a" stroke-width="0.35"/>
<line x1="121.6" y1="504.4" x2="121.6" y2="506.3" stroke="#e9979a" stroke-width="0.35"/>
<line x1="123.8" y1="503.7" x2="123.8" y2="505.6" stroke="#e9979a" stroke-width="0.35"/>
<line x1="126.0" y1="503.0" x2="126.0" y2="504.9" stroke="#e9979a" stroke-width="0.35"/>
<line x1="128.3" y1="502.3" x2="128.3" y2="504.2" stroke="#e9979a" stroke-width="0.35"/>
<line x1="130.5" y1="501.6" x2="130.5" y2="503.5" stroke="#e9979a" stroke-width="0.35"/>
<line x1="132.8" y1="500.9" x2="132.8" y2="502.8" stroke="#e9979a" stroke-width="0.35"/>
<line x1="135.0" y1="500.2" x2="135.0" y2="502.1" stroke="#e9979a" stroke-width="0.35"/>
<line x1="101.4" y1="504.7" x2="101.4" y2="507.7" stroke="#cdb77f" stroke-width="0.6" stroke-opacity="0.7"/>
<line x1="110.9" y1="505.5" x2="110.9" y2="508.5" stroke="#cdb77f" stroke-width="0.6" stroke-opacity="0.7"/>
<line x1="95.8" y1="509.0" x2="95.8" y2="512.0" stroke="#cdb77f" stroke-width="0.6" stroke-opacity="0.7"/>
<line x1="116.1" y1="500.7" x2="116.1" y2="503.7" stroke="#cdb77f" stroke-width="0.6" stroke-opacity="0.7"/>
<line x1="115.2" y1="504.0" x2="115.2" y2="507.0" stroke="#cdb77f" stroke-width="0.6" stroke-opacity="0.7"/>
<line x1="98.1" y1="509.6" x2="98.1" y2="512.6" stroke="#cdb77f" stroke-width="0.6" stroke-opacity="0.7"/>
<line x1="105.1" y1="506.6" x2="105.1" y2="509.6" stroke="#cdb77f" stroke-width="0.6" stroke-opacity="0.7"/>
<polyline points="31.1,446.8 50.4,464.8 69.7,484.6 86.0,504.7 136.6,489.5" fill="none" stroke="#fff" stroke-width="2.1" stroke-linejoin="round" stroke-linecap="round"/>
<polyline points="50.4,464.8 97.8,447.4" fill="none" stroke="#fff" stroke-width="2.1" stroke-linejoin="round" stroke-linecap="round"/>
<polyline points="69.7,484.6 117.0,467.9" fill="none" stroke="#fff" stroke-width="2.1" stroke-linejoin="round" stroke-linecap="round"/>
<polyline points="32.0,457.4 81.1,441.7" fill="none" stroke="#fff" stroke-width="0.5" stroke-linejoin="round" stroke-linecap="round"/>
<polyline points="51.3,475.9 99.5,460.9" fill="none" stroke="#fff" stroke-width="0.5" stroke-linejoin="round" stroke-linecap="round"/>
<line x1="31.1" y1="459.3" x2="42.4" y2="490.7" stroke="#111" stroke-width="1.8"/>
<line x1="46.9" y1="492.9" x2="86.3" y2="517.5" stroke="#111" stroke-width="1.8" stroke-linecap="round"/>
<rect x="42.0" y="491.4" width="5.2" height="2.9" fill="#dfe6f0" stroke="#111" stroke-width="1.2" transform="rotate(-10 42.0 491.4)"/>
</g>
<defs><linearGradient id="ag3159" gradientUnits="userSpaceOnUse" x1="274.8" x2="279.8" y1="0" y2="0"><stop offset="0" stop-color="#3a4a68" stop-opacity="0"/><stop offset="1" stop-color="#3a4a68"/></linearGradient></defs>
<rect x="274.8" y="410.59999999999997" width="11.800000000000011" height="1.2" fill="url(#ag3159)"/>
<path d="M289.6,411.2 L283.8,408.7 L285.20000000000005,411.2 L283.8,413.7Z" fill="#3a4a68"/>
<defs><linearGradient id="ag3221" gradientUnits="userSpaceOnUse" x1="274.8" x2="279.8" y1="0" y2="0"><stop offset="0" stop-color="#3a4a68" stop-opacity="0"/><stop offset="1" stop-color="#3a4a68"/></linearGradient></defs>
<rect x="274.8" y="472.4" width="11.800000000000011" height="1.2" fill="url(#ag3221)"/>
<path d="M289.6,473 L283.8,470.5 L285.20000000000005,473 L283.8,475.5Z" fill="#3a4a68"/>
<defs><linearGradient id="ag4105" gradientUnits="userSpaceOnUse" x1="369.4" x2="374.4" y1="0" y2="0"><stop offset="0" stop-color="#3a4a68" stop-opacity="0"/><stop offset="1" stop-color="#3a4a68"/></linearGradient></defs>
<rect x="369.4" y="410.59999999999997" width="12.200000000000045" height="1.2" fill="url(#ag4105)"/>
<path d="M384.6,411.2 L378.8,408.7 L380.20000000000005,411.2 L378.8,413.7Z" fill="#3a4a68"/>
<defs><linearGradient id="ag4167" gradientUnits="userSpaceOnUse" x1="369.4" x2="374.4" y1="0" y2="0"><stop offset="0" stop-color="#3a4a68" stop-opacity="0"/><stop offset="1" stop-color="#3a4a68"/></linearGradient></defs>
<rect x="369.4" y="472.4" width="12.200000000000045" height="1.2" fill="url(#ag4167)"/>
<path d="M384.6,473 L378.8,470.5 L380.20000000000005,473 L378.8,475.5Z" fill="#3a4a68"/>
<text transform="translate(331.50,393.90) rotate(0.03)" font-size="9.3" text-anchor="middle" font-weight="normal" fill="#222" >Identification of</text>
<text transform="translate(331.50,404.25) rotate(0.03)" font-size="9.3" text-anchor="middle" font-weight="normal" fill="#222" >relevant genes of</text>
<text transform="translate(331.50,414.60) rotate(0.03)" font-size="9.3" text-anchor="middle" font-weight="normal" fill="#222" >microbiota</text>
<text transform="translate(331.50,424.95) rotate(0.03)" font-size="9.3" text-anchor="middle" font-weight="normal" fill="#222" >colonization</text>
<text transform="translate(331.50,435.30) rotate(0.03)" font-size="9.3" text-anchor="middle" font-weight="normal" fill="#222" >in mice</text>
<text transform="translate(331.50,459.20) rotate(0.03)" font-size="9.3" text-anchor="middle" font-weight="normal" fill="#222" >Identification of</text>
<text transform="translate(331.50,469.55) rotate(0.03)" font-size="9.3" text-anchor="middle" font-weight="normal" fill="#222" >relevant genes of</text>
<text transform="translate(331.50,479.90) rotate(0.03)" font-size="9.3" text-anchor="middle" font-weight="normal" fill="#222" >microbiota</text>
<text transform="translate(331.50,490.25) rotate(0.03)" font-size="9.3" text-anchor="middle" font-weight="normal" fill="#222" >colonization</text>
<text transform="translate(331.50,500.60) rotate(0.03)" font-size="9.3" text-anchor="middle" font-weight="normal" fill="#222" >on chip</text>
<text transform="translate(413.60,392.80) rotate(0.03)" font-size="8.2" text-anchor="middle" font-weight="normal" fill="#222" >GSEA</text>
<text transform="translate(413.60,454.90) rotate(0.03)" font-size="8.2" text-anchor="middle" font-weight="normal" fill="#222" >GSEA</text>
<rect x="392.8" y="395.3" width="41.4" height="45" fill="#cfcfcf"/>
<rect x="394.40000000000003" y="397.3" width="38.2" height="36.5" fill="#fff" stroke="#8f8f8f" stroke-width="1.5"/>
<polyline points="395.5,404.6 397.2,406.3 398.5,408.0 399.8,406.3 401.2,408.3 402.5,407.5 403.8,409.1 405.2,408.6 406.5,405.0 407.5,400.3 408.8,403.3 410.5,406.6 412.5,411.3 413.5,406.6 414.8,401.3 416.8,402.5 418.5,400.6 419.8,400.0 421.8,402.5 423.8,405.0 425.8,407.5 427.8,408.6 429.5,405.0 431.2,404.6" fill="none" stroke="#4fdd50" stroke-width="1.35" stroke-linejoin="round"/>
<rect x="395.40000000000003" y="415.3" width="36.2" height="4.6" fill="#fff"/>
<rect x="399.3" y="415.3" width="4.5" height="4.6" fill="#111"/>
<rect x="404.8" y="415.3" width="1.2" height="4.6" fill="#111"/>
<rect x="406.8" y="415.3" width="1.8" height="4.6" fill="#111"/>
<rect x="409.8" y="415.3" width="1" height="4.6" fill="#111"/>
<rect x="412.3" y="415.3" width="1.5" height="4.6" fill="#111"/>
<rect x="414.8" y="415.3" width="0.8" height="4.6" fill="#111"/>
<rect x="417.8" y="415.3" width="2.6" height="4.6" fill="#111"/>
<rect x="421.8" y="415.3" width="0.6" height="4.6" fill="#111"/>
<rect x="427.3" y="415.3" width="3.2" height="4.6" fill="#111"/>
<defs><linearGradient id="rb0" x1="0" x2="1"><stop offset="0" stop-color="#cc4040"/><stop offset="0.5" stop-color="#e6d2dc"/><stop offset="1" stop-color="#4040b4"/></linearGradient></defs>
<rect x="395.40000000000003" y="420.7" width="36.2" height="1.2" fill="url(#rb0)"/>
<path d="M396.0,423.8 C404.8,426.8 422.8,427.3 430.3,426.8 V431.6 H396.0Z" fill="none" stroke="#7a7a7a" stroke-width="0.8"/>
<rect x="392.8" y="458" width="41.4" height="45" fill="#cfcfcf"/>
<rect x="394.40000000000003" y="460" width="38.2" height="36.5" fill="#fff" stroke="#8f8f8f" stroke-width="1.5"/>
<polyline points="395.5,466.7 396.2,461.0 397.5,462.3 398.8,464.2 400.2,463.0 401.5,462.0 402.8,465.3 404.5,464.2 405.8,465.3 407.2,464.7 408.5,465.8 410.2,465.3 411.8,466.7 413.5,466.3 415.2,468.3 416.8,469.7 418.5,470.8 420.2,472.0 422.2,472.7 423.8,473.7 425.8,474.7 427.8,476.3 428.8,473.3 429.8,465.3 430.8,465.8" fill="none" stroke="#4fdd50" stroke-width="1.35" stroke-linejoin="round"/>
<rect x="395.40000000000003" y="478" width="36.2" height="4.6" fill="#fff"/>
<rect x="395.8" y="478" width="1.2" height="4.6" fill="#111"/>
<rect x="398.3" y="478" width="0.8" height="4.6" fill="#111"/>
<rect x="400.8" y="478" width="2" height="4.6" fill="#111"/>
<rect x="404.3" y="478" width="1" height="4.6" fill="#111"/>
<rect x="406.8" y="478" width="1.5" height="4.6" fill="#111"/>
<rect x="409.8" y="478" width="1" height="4.6" fill="#111"/>
<rect x="412.3" y="478" width="2.5" height="4.6" fill="#111"/>
<rect x="415.8" y="478" width="1.6" height="4.6" fill="#111"/>
<rect x="418.8" y="478" width="1" height="4.6" fill="#111"/>
<rect x="421.3" y="478" width="1.8" height="4.6" fill="#111"/>
<rect x="424.3" y="478" width="1" height="4.6" fill="#111"/>
<rect x="426.8" y="478" width="2.6" height="4.6" fill="#111"/>
<rect x="430.3" y="478" width="1" height="4.6" fill="#111"/>
<defs><linearGradient id="rb1" x1="0" x2="1"><stop offset="0" stop-color="#cc4040"/><stop offset="0.5" stop-color="#e6d2dc"/><stop offset="1" stop-color="#4040b4"/></linearGradient></defs>
<rect x="395.40000000000003" y="483.4" width="36.2" height="1.2" fill="url(#rb1)"/>
<path d="M396.0,486.5 C404.8,489.5 422.8,490 430.3,489.5 V494.3 H396.0Z" fill="none" stroke="#7a7a7a" stroke-width="0.8"/>
<text transform="translate(483.70,436.40) rotate(0.03)" font-size="9.3" text-anchor="middle" font-weight="normal" fill="#222" >Identification of</text>
<text transform="translate(483.70,446.85) rotate(0.03)" font-size="9.3" text-anchor="middle" font-weight="normal" fill="#222" >orthologous</text>
<text transform="translate(483.70,457.30) rotate(0.03)" font-size="9.3" text-anchor="middle" font-weight="normal" fill="#222" >enriched pathways</text>
<path d="M458.6,409.3 C470,410.5 478.5,416 481.3,424" fill="none" stroke="#3b4f74" stroke-width="1.1"/>
<path d="M482.2,428.6 L478.3,423.6 L481.3,424.6 L484.3,422.4Z" fill="#3b4f74"/>
<path d="M458.6,476.6 C470,475.4 478.5,470 481.3,462" fill="none" stroke="#3b4f74" stroke-width="1.1"/>
<path d="M482.2,457.4 L478.3,462.4 L481.3,461.4 L484.3,463.6Z" fill="#3b4f74"/>
</g>
<g id="pf">
<text transform="translate(528.80,390.80) rotate(0.03) scale(1.15,1)" font-size="12.8" text-anchor="start" font-weight="bold" fill="#000" >f</text>
<rect x="554.2" y="378.4" width="7.5" height="7.3" fill="#d0685f"/>
<rect x="554.2" y="389.7" width="7.5" height="7.3" fill="#7090c0"/>
<text transform="translate(566.50,385.50) rotate(0.03)" font-size="9.1" text-anchor="start" font-weight="normal" fill="#222" >Up in mice</text>
<text transform="translate(566.50,396.80) rotate(0.03)" font-size="9.1" text-anchor="start" font-weight="normal" fill="#222" >Down in mice</text>
<line x1="564.3" y1="402.9" x2="564.3" y2="494.0" stroke="#8a8a8a" stroke-width="0.8"/>
<line x1="563.9" y1="493.6" x2="638" y2="493.6" stroke="#9a9a9a" stroke-width="0.9"/>
<line x1="561.3" y1="493.6" x2="564.3" y2="493.6" stroke="#8a8a8a" stroke-width="0.7"/>
<text transform="translate(558.10,496.70) rotate(0.03)" font-size="8.8" text-anchor="end" font-weight="normal" fill="#333" >0</text>
<line x1="562.5999999999999" y1="489.1" x2="564.3" y2="489.1" stroke="#8a8a8a" stroke-width="0.5"/>
<line x1="562.5999999999999" y1="484.6" x2="564.3" y2="484.6" stroke="#8a8a8a" stroke-width="0.5"/>
<line x1="562.5999999999999" y1="480.0" x2="564.3" y2="480.0" stroke="#8a8a8a" stroke-width="0.5"/>
<line x1="562.5999999999999" y1="475.5" x2="564.3" y2="475.5" stroke="#8a8a8a" stroke-width="0.5"/>
<line x1="561.3" y1="471.0" x2="564.3" y2="471.0" stroke="#8a8a8a" stroke-width="0.7"/>
<text transform="translate(558.10,474.10) rotate(0.03)" font-size="8.8" text-anchor="end" font-weight="normal" fill="#333" >50</text>
<line x1="562.5999999999999" y1="466.5" x2="564.3" y2="466.5" stroke="#8a8a8a" stroke-width="0.5"/>
<line x1="562.5999999999999" y1="462.0" x2="564.3" y2="462.0" stroke="#8a8a8a" stroke-width="0.5"/>
<line x1="562.5999999999999" y1="457.4" x2="564.3" y2="457.4" stroke="#8a8a8a" stroke-width="0.5"/>
<line x1="562.5999999999999" y1="452.9" x2="564.3" y2="452.9" stroke="#8a8a8a" stroke-width="0.5"/>
<line x1="561.3" y1="448.4" x2="564.3" y2="448.4" stroke="#8a8a8a" stroke-width="0.7"/>
<text transform="translate(558.10,451.50) rotate(0.03)" font-size="8.8" text-anchor="end" font-weight="normal" fill="#333" >100</text>
<line x1="562.5999999999999" y1="443.9" x2="564.3" y2="443.9" stroke="#8a8a8a" stroke-width="0.5"/>
<line x1="562.5999999999999" y1="439.4" x2="564.3" y2="439.4" stroke="#8a8a8a" stroke-width="0.5"/>
<line x1="562.5999999999999" y1="434.8" x2="564.3" y2="434.8" stroke="#8a8a8a" stroke-width="0.5"/>
<line x1="562.5999999999999" y1="430.3" x2="564.3" y2="430.3" stroke="#8a8a8a" stroke-width="0.5"/>
<line x1="561.3" y1="425.8" x2="564.3" y2="425.8" stroke="#8a8a8a" stroke-width="0.7"/>
<text transform="translate(558.10,428.90) rotate(0.03)" font-size="8.8" text-anchor="end" font-weight="normal" fill="#333" >150</text>
<line x1="562.5999999999999" y1="421.3" x2="564.3" y2="421.3" stroke="#8a8a8a" stroke-width="0.5"/>
<line x1="562.5999999999999" y1="416.8" x2="564.3" y2="416.8" stroke="#8a8a8a" stroke-width="0.5"/>
<line x1="562.5999999999999" y1="412.2" x2="564.3" y2="412.2" stroke="#8a8a8a" stroke-width="0.5"/>
<line x1="562.5999999999999" y1="407.7" x2="564.3" y2="407.7" stroke="#8a8a8a" stroke-width="0.5"/>
<line x1="561.3" y1="403.2" x2="564.3" y2="403.2" stroke="#8a8a8a" stroke-width="0.7"/>
<text transform="translate(558.10,406.30) rotate(0.03)" font-size="8.8" text-anchor="end" font-weight="normal" fill="#333" >200</text>
<text transform="translate(536.50,448.30) rotate(-90)" font-size="9.05" text-anchor="middle" font-weight="normal" fill="#333" >Number of GOs</text>
<rect x="575.2" y="471.0" width="20.9" height="22.6" fill="#d0685f"/>
<rect x="575.2" y="488.4" width="20.9" height="5.2" fill="#7090c0"/>
<rect x="607" y="418.1" width="20.9" height="75.5" fill="#d0685f"/>
<rect x="607" y="424.9" width="20.9" height="68.7" fill="#7090c0"/>
<line x1="585.6" y1="493.6" x2="585.6" y2="496.20000000000005" stroke="#8a8a8a" stroke-width="0.7"/>
<line x1="617.4" y1="493.6" x2="617.4" y2="496.20000000000005" stroke="#8a8a8a" stroke-width="0.7"/>
<text transform="translate(604.50,420.90) rotate(0.03)" font-size="11.8" text-anchor="middle" font-weight="normal" fill="#222" >****</text>
<text transform="translate(574.30,507.60) rotate(0.03)" font-size="9.1" text-anchor="end" font-weight="normal" fill="#222" >Gut-on-chip:</text>
<text transform="translate(585.60,507.40) rotate(0.03)" font-size="9.1" text-anchor="middle" font-weight="normal" fill="#222" >Up</text>
<text transform="translate(617.40,507.40) rotate(0.03)" font-size="9.1" text-anchor="middle" font-weight="normal" fill="#222" >Down</text>
</g>
<g id="pg">
<text transform="translate(159.40,540.00) rotate(0.03)" font-size="12.8" text-anchor="start" font-weight="bold" fill="#000" >g</text>
<text transform="translate(281.20,543.60) rotate(0.03)" font-size="9.1" text-anchor="start" font-weight="normal" fill="#222" >GSEA analysis of biological processes shared between gut-on-chip and mice</text>
<rect x="474.4" y="549.55" width="67.2" height="9.9" fill="#7dd3b8"/>
<line x1="393.0" y1="554.50" x2="396.6" y2="554.50" stroke="#444" stroke-width="0.5"/>
<text transform="translate(391.20,556.60) rotate(0.03) scale(1.0422,1)" font-size="6.1" text-anchor="end" font-weight="normal" fill="#222" >Coated vesicle</text>
<rect x="474.4" y="560.76" width="65.4" height="9.9" fill="#7bceb8"/>
<line x1="393.0" y1="565.71" x2="396.6" y2="565.71" stroke="#444" stroke-width="0.5"/>
<text transform="translate(391.20,567.81) rotate(0.03) scale(1.046,1)" font-size="6.1" text-anchor="end" font-weight="normal" fill="#222" >Cellular response to external stimulus</text>
<rect x="474.4" y="571.96" width="65.4" height="9.9" fill="#84d5ba"/>
<line x1="393.0" y1="576.91" x2="396.6" y2="576.91" stroke="#444" stroke-width="0.5"/>
<text transform="translate(391.20,579.01) rotate(0.03) scale(1.0684,1)" font-size="6.1" text-anchor="end" font-weight="normal" fill="#222" >C-type lectin receptors</text>
<rect x="474.4" y="583.17" width="61.9" height="9.9" fill="#4896b8"/>
<line x1="393.0" y1="588.12" x2="396.6" y2="588.12" stroke="#444" stroke-width="0.5"/>
<text transform="translate(391.20,590.22) rotate(0.03) scale(1.0597,1)" font-size="6.1" text-anchor="end" font-weight="normal" fill="#222" >Pattern recognition receptor signalling pathway</text>
<rect x="474.4" y="594.37" width="61.4" height="9.9" fill="#43a3ba"/>
<line x1="393.0" y1="599.32" x2="396.6" y2="599.32" stroke="#444" stroke-width="0.5"/>
<text transform="translate(391.20,601.42) rotate(0.03) scale(1.0635,1)" font-size="6.1" text-anchor="end" font-weight="normal" fill="#222" >Alpha-beta T-cell differentiation</text>
<rect x="474.4" y="605.58" width="61.0" height="9.9" fill="#43a9bc"/>
<line x1="393.0" y1="610.53" x2="396.6" y2="610.53" stroke="#444" stroke-width="0.5"/>
<text transform="translate(391.20,612.63) rotate(0.03) scale(1.0438,1)" font-size="6.1" text-anchor="end" font-weight="normal" fill="#222" >Cellular response to starvation</text>
<rect x="474.4" y="616.79" width="60.6" height="9.9" fill="#4693b8"/>
<line x1="393.0" y1="621.74" x2="396.6" y2="621.74" stroke="#444" stroke-width="0.5"/>
<text transform="translate(391.20,623.84) rotate(0.03) scale(1.0488,1)" font-size="6.1" text-anchor="end" font-weight="normal" fill="#222" >Interleukin-4 and interleukin-13 signalling</text>
<rect x="474.4" y="627.99" width="60.1" height="9.9" fill="#4a89ba"/>
<line x1="393.0" y1="632.94" x2="396.6" y2="632.94" stroke="#444" stroke-width="0.5"/>
<text transform="translate(391.20,635.04) rotate(0.03) scale(1.0619,1)" font-size="6.1" text-anchor="end" font-weight="normal" fill="#222" >Positive regulation of lipid localization</text>
<rect x="474.4" y="639.20" width="59.6" height="9.9" fill="#4c75b8"/>
<line x1="393.0" y1="644.15" x2="396.6" y2="644.15" stroke="#444" stroke-width="0.5"/>
<text transform="translate(391.20,646.25) rotate(0.03) scale(1.0545,1)" font-size="6.1" text-anchor="end" font-weight="normal" fill="#222" >Liposaccharide metabolic process</text>
<rect x="474.4" y="650.40" width="59.2" height="9.9" fill="#4a80b8"/>
<line x1="393.0" y1="655.35" x2="396.6" y2="655.35" stroke="#444" stroke-width="0.5"/>
<text transform="translate(391.20,657.45) rotate(0.03) scale(1.066,1)" font-size="6.1" text-anchor="end" font-weight="normal" fill="#222" >Glycolipid metabolic process</text>
<rect x="474.4" y="661.61" width="57.4" height="9.9" fill="#3b1fa6"/>
<line x1="393.0" y1="666.56" x2="396.6" y2="666.56" stroke="#444" stroke-width="0.5"/>
<text transform="translate(391.20,668.66) rotate(0.03) scale(1.0596,1)" font-size="6.1" text-anchor="end" font-weight="normal" fill="#222" >Death receptor signalling</text>
<rect x="405.4" y="672.82" width="69.0" height="9.9" fill="#b1ecb9"/>
<line x1="393.0" y1="677.77" x2="396.6" y2="677.77" stroke="#444" stroke-width="0.5"/>
<text transform="translate(391.20,679.87) rotate(0.03) scale(1.0412,1)" font-size="6.1" text-anchor="end" font-weight="normal" fill="#222" >Oxidoreductase activity, acting on NAD(P)H, quinone or similar compound as acceptor</text>
<rect x="405.0" y="684.02" width="69.4" height="9.9" fill="#b1ecb9"/>
<line x1="393.0" y1="688.97" x2="396.6" y2="688.97" stroke="#444" stroke-width="0.5"/>
<text transform="translate(391.20,691.07) rotate(0.03) scale(1.0664,1)" font-size="6.1" text-anchor="end" font-weight="normal" fill="#222" >Structural constituent of ribosome</text>
<rect x="404.6" y="695.23" width="69.8" height="9.9" fill="#b1ecb9"/>
<line x1="393.0" y1="700.18" x2="396.6" y2="700.18" stroke="#444" stroke-width="0.5"/>
<text transform="translate(391.20,702.28) rotate(0.03) scale(1.0732,1)" font-size="6.1" text-anchor="end" font-weight="normal" fill="#222" >Mitochondrial protein-containing complex</text>
<rect x="404.6" y="706.43" width="69.8" height="9.9" fill="#b1ecb9"/>
<line x1="393.0" y1="711.38" x2="396.6" y2="711.38" stroke="#444" stroke-width="0.5"/>
<text transform="translate(391.20,713.48) rotate(0.03) scale(1.0566,1)" font-size="6.1" text-anchor="end" font-weight="normal" fill="#222" >Kinetochore</text>
<rect x="404.1" y="717.64" width="70.3" height="9.9" fill="#b0ebb9"/>
<line x1="393.0" y1="722.59" x2="396.6" y2="722.59" stroke="#444" stroke-width="0.5"/>
<text transform="translate(391.20,724.69) rotate(0.03) scale(1.0527,1)" font-size="6.1" text-anchor="end" font-weight="normal" fill="#222" >Condensed chromosome, centromeric region</text>
<rect x="403.7" y="728.85" width="70.7" height="9.9" fill="#a5e5b7"/>
<line x1="393.0" y1="733.80" x2="396.6" y2="733.80" stroke="#444" stroke-width="0.5"/>
<text transform="translate(391.20,735.90) rotate(0.03) scale(1.0503,1)" font-size="6.1" text-anchor="end" font-weight="normal" fill="#222" >Mitochondrial gene expression</text>
<rect x="403.2" y="740.05" width="71.2" height="9.9" fill="#97dfb6"/>
<line x1="393.0" y1="745.00" x2="396.6" y2="745.00" stroke="#444" stroke-width="0.5"/>
<text transform="translate(391.20,747.10) rotate(0.03) scale(1.0532,1)" font-size="6.1" text-anchor="end" font-weight="normal" fill="#222" >Cellular amino acid metabolic process</text>
<rect x="396.6" y="548.6" width="151.69999999999993" height="202.60000000000002" fill="none" stroke="#555" stroke-width="0.6"/>
<line x1="407.6" y1="751.2" x2="407.6" y2="754.2" stroke="#444" stroke-width="0.5"/>
<text transform="translate(407.60,762.80) rotate(0.03) scale(1.06,1)" font-size="6.6" text-anchor="middle" font-weight="normal" fill="#333" >−2</text>
<line x1="441.0" y1="751.2" x2="441.0" y2="754.2" stroke="#444" stroke-width="0.5"/>
<text transform="translate(441.00,762.80) rotate(0.03) scale(1.06,1)" font-size="6.6" text-anchor="middle" font-weight="normal" fill="#333" >−1</text>
<line x1="474.4" y1="751.2" x2="474.4" y2="754.2" stroke="#444" stroke-width="0.5"/>
<text transform="translate(474.40,762.80) rotate(0.03) scale(1.06,1)" font-size="6.6" text-anchor="middle" font-weight="normal" fill="#333" >0</text>
<line x1="507.8" y1="751.2" x2="507.8" y2="754.2" stroke="#444" stroke-width="0.5"/>
<text transform="translate(507.80,762.80) rotate(0.03) scale(1.06,1)" font-size="6.6" text-anchor="middle" font-weight="normal" fill="#333" >1</text>
<line x1="541.2" y1="751.2" x2="541.2" y2="754.2" stroke="#444" stroke-width="0.5"/>
<text transform="translate(541.20,762.80) rotate(0.03) scale(1.06,1)" font-size="6.6" text-anchor="middle" font-weight="normal" fill="#333" >2</text>
<text transform="translate(472.60,777.80) rotate(0.03)" font-size="9.3" text-anchor="middle" font-weight="normal" fill="#222" >Normalized enrichment score</text>
<text transform="translate(557.20,628.80) rotate(0.03) scale(1.06,1)" font-size="7.8" text-anchor="start" font-weight="normal" fill="#222" >FDR</text>
<defs><linearGradient id="fdr" x1="0" x2="0" y1="0" y2="1"><stop offset="0" stop-color="#aeecb9"/><stop offset="0.25" stop-color="#80d6b8"/><stop offset="0.5" stop-color="#43acbc"/><stop offset="0.78" stop-color="#4a72b8"/><stop offset="1" stop-color="#3b1fa6"/></linearGradient></defs>
<rect x="557.2" y="631.9" width="9.8" height="45.4" fill="url(#fdr)"/>
<line x1="557.2" y1="642" x2="559.2" y2="642" stroke="#fff" stroke-width="0.5"/><line x1="565" y1="642" x2="567" y2="642" stroke="#fff" stroke-width="0.5"/>
<text transform="translate(568.90,644.50) rotate(0.03) scale(1.06,1)" font-size="7" text-anchor="start" font-weight="normal" fill="#222" >0.02</text>
<line x1="557.2" y1="655" x2="559.2" y2="655" stroke="#fff" stroke-width="0.5"/><line x1="565" y1="655" x2="567" y2="655" stroke="#fff" stroke-width="0.5"/>
<text transform="translate(568.90,657.50) rotate(0.03) scale(1.06,1)" font-size="7" text-anchor="start" font-weight="normal" fill="#222" >0.04</text>
<line x1="557.2" y1="667.5" x2="559.2" y2="667.5" stroke="#fff" stroke-width="0.5"/><line x1="565" y1="667.5" x2="567" y2="667.5" stroke="#fff" stroke-width="0.5"/>
<text transform="translate(568.90,670.00) rotate(0.03) scale(1.06,1)" font-size="7" text-anchor="start" font-weight="normal" fill="#222" >0.06</text>
</g>
</svg></body></html>
